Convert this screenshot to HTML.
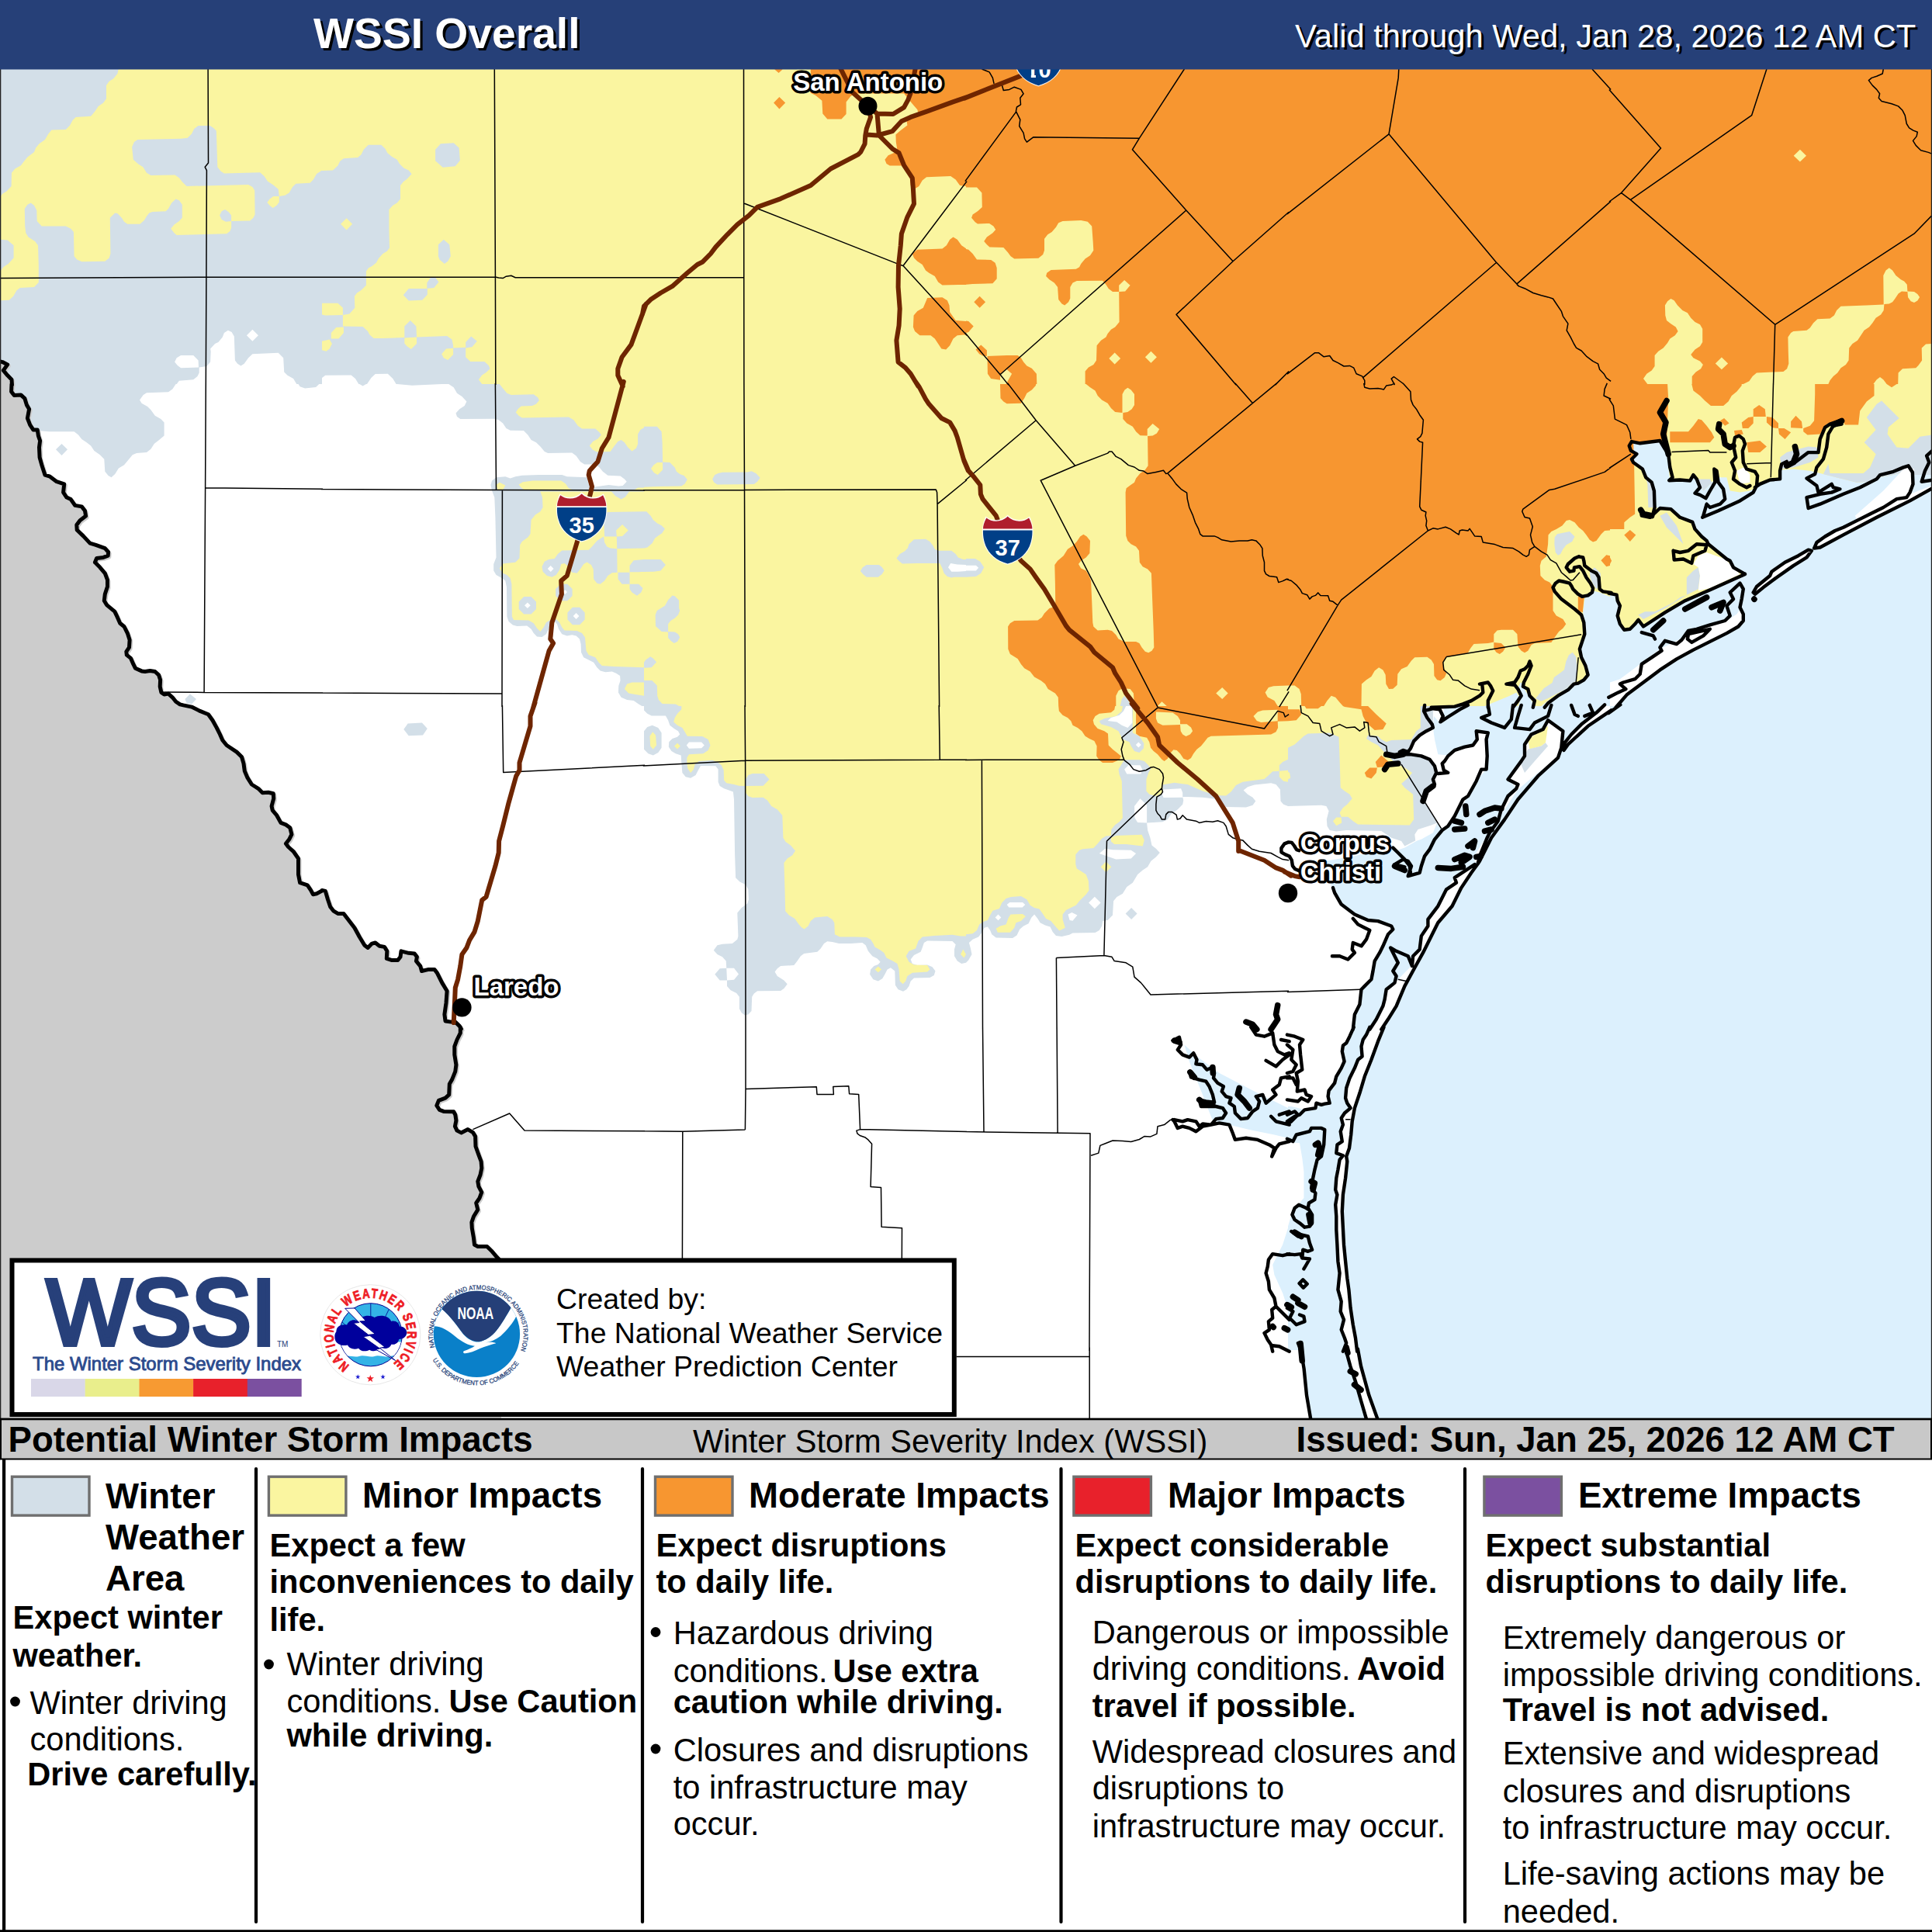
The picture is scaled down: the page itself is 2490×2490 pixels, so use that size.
<!DOCTYPE html>
<html lang="en"><head><meta charset="utf-8"><title>WSSI Overall</title>
<style>
html,body{margin:0;padding:0;background:#fff;}
body{width:2490px;height:2490px;overflow:hidden;font-family:"Liberation Sans",Arial,sans-serif;}
svg{display:block;position:absolute;left:0;top:0;}
text{font-family:"Liberation Sans",Arial,sans-serif;}
.b{font-weight:bold;}
</style></head><body>
<svg width="2490" height="2490" viewBox="0 0 2490 2490">
<rect x="0" y="88" width="2490" height="1742" fill="#fff"/>
<path d="M0,80 415,80 415,495 0,495Z M226.6,495 222.3,501.4 217,505.3 189,506.2 184.7,509 180,515.4 182.6,519.7 190.1,524 194.4,528.3 199.8,535.8 207.3,540.1 211.6,544.4 211.6,561.6 205.1,567 198.7,571.9 194.4,578.8 189,583.1 176.1,584.1 170.8,586.3 165.4,592.7 160,599.2 152.9,603.5 148.2,611 143.5,615.3 139.6,613.1 135.3,607.8 134.3,591.7 128.9,586.3 121.4,580.9 117.1,574.5 111.7,570.2 105.3,565.9 101,560.5 95.6,556.2 63.4,556.2 48.3,555.1 0,556.2 0,495Z M72,579.2 79.5,571.9 87,579.2 79.5,586.9Z M411.3,495 407.1,498.9 393.1,500.4 386.6,498.2 384.5,495Z M238.4,901 244.9,894.5 253,901 247,907.4 240.6,906.3Z M471.9,495 467.6,497.6 463.3,495Z M569.7,495 531,496.7 511.7,495Z M830,495 830,910 827.4,910 823.1,907.4 816.7,903.1 808.1,902.1 800.6,898.8 796.9,892.4 797.3,883.8 799.5,877.3 799.1,870.9 794.1,867.7 788.8,865.5 780.2,866.2 773.7,864.5 769.4,860.2 765.1,853.7 758.7,850.5 752.2,847.3 749,840.8 748.6,830.1 746.9,823.6 742.6,819.4 737.2,818.3 730.8,819.4 724.3,817.2 720,810.8 717.9,804.3 714.7,801.1 709.3,804.3 707.1,810.8 703.9,817.2 698.5,821.1 692.1,820.4 687.8,816.1 684.6,810.8 679.2,806.5 666.3,806.9 660.9,805.4 655.6,801.1 653.4,794.7 653,757.1 651.3,748.5 647,745.2 639.5,740.9 636.2,735.6 636.2,727 639.5,718.4 638.4,666.8 637.3,641.1 634.1,632.5 632.4,625 634.1,619.6 639.5,615.3 651.3,614.2 657.7,616.4 664.2,614.2 672.8,612.7 694.2,612.1 724.3,612.1 730.8,614.2 750.1,614.9 756.5,615.3 758.7,623.9 764.1,627.7 773.7,626.5 784.5,625 797.3,626.5 802.7,626 807.7,620.7 804.9,617.4 799.5,613.6 783.4,612.7 776.9,607.8 772.6,602.4 767.3,598.5 753.3,598.5 747.9,594.9 742.6,587.4 737.2,583.5 706.1,584.1 701.8,582 696.4,575.6 691,570.2 684.6,567 680.3,560.5 674.9,555.1 657.7,554.7 652.4,551.9 648.1,545.5 642.7,541.2 637.3,539.7 593.3,540.1 589,536.9 587.5,532.6 592.2,527.2 598.7,522.9 601.4,517.6 595.4,511.1 589,506.8 584.7,499.3 578.3,495Z M520.3,940.1 525.6,932.6 543.9,931.5 550.8,939 545,947.6 526.7,948.2Z M830,910 1245,910 1245,1240.8 1239.2,1241.9 1233.8,1238.6 1230,1232.2 1230,1223.6 1231.7,1217.2 1227.4,1212.9 1195.2,1212.4 1190.9,1215 1188.7,1221.5 1186.6,1226.8 1178,1231.1 1173.7,1236.5 1175.8,1241.9 1182.3,1244 1195.2,1243.4 1201.6,1246.2 1205.5,1251.5 1203.8,1256.9 1198.4,1260.1 1178,1260.6 1173.7,1264.4 1171.5,1270.9 1168.3,1275.2 1164,1277.7 1157.6,1275.2 1153.9,1269.8 1153.3,1251.5 1147.9,1247.2 1143.6,1249.4 1140.4,1255.8 1137.2,1261.2 1131.8,1264.4 1125.4,1262.3 1121.1,1255.8 1122.1,1249.4 1126.4,1245.1 1131.8,1242.9 1134.6,1239.7 1130.7,1235.4 1124.3,1232.2 1118.9,1225.8 1115.7,1218.2 1111.4,1215 1096.4,1216.1 1081.3,1216.1 1072.7,1213.9 1066.3,1213.3 1062,1216.1 1057.7,1222.5 1053.4,1226.8 1036.2,1229 1031.9,1232.2 1027.6,1238.6 1023.3,1244 1006.1,1245.1 1001.8,1248.3 998.6,1252.6 1001.8,1258 1010.4,1263.4 1014.7,1268.3 1010.4,1274.1 1006.1,1276.9 976.1,1277.3 971.8,1280.5 969.2,1284.8 968.5,1303.1 964.3,1307.4 960,1308.5 955.7,1305.2 952.9,1299.9 952.9,1284.8 949.2,1279.9 941.7,1276.2 937,1270.9 937,1263.4 927.7,1263.4 921.3,1255.8 927.7,1248.3 936.3,1247.7 935.7,1238.6 931,1233.3 924.5,1230.1 919.8,1224.7 924.5,1218.2 931,1216.7 943.8,1216.1 950.3,1210.7 951.4,1206.4 950.3,1176.4 955.7,1169.9 963.2,1164.5 964.9,1159.2 964.3,1146.3 961,1140.3 953.5,1136.6 948.1,1131.2 947.1,1101.2 946,1030.3 944.9,1020.6 939.5,1018.5 933.1,1016.3 927.7,1013.1 925.6,1007.7 925.6,991.6 922.4,987.3 903,986.9 899.8,992.7 896.6,999.1 890.1,1002.8 883.7,1001.3 879.4,995.9 878.3,983 877.7,973.4 870.8,971.2 865.4,968 861.8,962.6 862.2,956.2 866.5,951.9 873,949.7 876.2,946.5 874,942.2 868.7,939 863.3,934.7 861.1,928.3 857.9,922.5 839.7,922.5 834.3,919.7 830,915.4Z M830,942.2 834.3,936.9 840.7,934.7 848.3,937.9 852.6,944.4 852.6,963.7 848.3,970.1 841.8,973.4 835.4,971.2 830,965.8Z M1245,910 1660,910 1660,1038.9 1654.2,1036.7 1650.5,1032.4 1649.9,1017.4 1644.5,1011 1638.1,1009.2 1616.6,1011.4 1608,1014.2 1602.6,1018.5 1608,1023.8 1614.5,1027.7 1618.3,1032.4 1614.5,1037.8 1605.9,1040.6 1580.1,1040 1575.8,1035.7 1571.5,1030.3 1562.9,1029.2 1550,1027.7 1530.7,1027.1 1524.2,1027.1 1525.3,1031.4 1524.2,1036.7 1517.8,1043.2 1509.2,1049.6 1504.9,1056.1 1498.5,1059.3 1478.1,1060.4 1479.1,1070 1482.4,1079.7 1484.5,1089.4 1489.9,1093.7 1494.8,1099 1489.9,1104.4 1483.4,1109.8 1479.1,1117.3 1472.7,1121.6 1466.2,1127 1459.8,1137.7 1452.3,1143.1 1446.9,1151.7 1439.4,1155.9 1435.1,1161.3 1434,1179.6 1427.6,1186 1421.1,1187.1 1420.1,1193.5 1416.8,1198.9 1411.5,1202.1 1382.5,1202.6 1378.2,1204.7 1368.5,1206.9 1361,1206 1356.7,1201.1 1353.5,1194.6 1347,1192.5 1340.6,1189.2 1337.4,1183.9 1333.1,1178.5 1329.2,1182.8 1325.6,1190.3 1319.1,1193.5 1314.2,1197.8 1310.5,1205.4 1305.1,1209 1283.7,1208.6 1278.3,1204.3 1276.1,1198.9 1272.9,1194.6 1268.6,1195.7 1265.4,1202.1 1261.1,1207.5 1253.6,1210.7 1248.9,1215 1251,1222.5 1252.5,1230.1 1248.2,1237.6 1245,1240.8Z M1450.6,1177.4 1458.1,1169.9 1465.6,1177.4 1458.1,1184.9Z" fill="#d3dfe8" fill-rule="nonzero"/>
<path d="M415,80 415,219.6 408.1,223.9 403.8,231.4 399.5,235.7 381.3,236.8 377,241.1 372.7,248.6 367.3,251.8 359.8,252.9 358.7,243.7 352.3,238.5 344.8,233.6 340.5,227.1 335.1,222.2 288.9,223.5 284.6,220.7 280.3,215.3 278.8,168.5 274.9,164.8 270.7,162.1 255.6,162.1 250.2,165.9 247,172.4 241.7,177.7 233.1,178.8 177.2,179.9 172.9,183.1 170.1,189.5 171.8,205.7 178.3,211.5 184.3,215.3 189,222.8 194.4,226.1 225.5,225.6 230.9,229.3 235.2,234.7 240.6,240 320.1,237.9 325.4,241.1 328.2,245.4 328.6,276.5 326.5,280.8 322.2,284.5 298.1,285.1 298.1,293.7 296.4,298 292.1,301.2 227.7,303 224.5,300.2 220.2,294.8 224.5,289.4 230.9,285.1 234.8,280.8 234.8,263.7 230.9,258.3 226.6,256.6 221.2,261.5 217,269 213.7,272.2 196.5,272.9 192.2,274.4 189,278.7 185.8,284.1 180.4,288.8 164.3,288.8 160,285.8 156.8,280.8 151.4,275 148.2,274.4 141.8,280.8 142.4,327 140.7,332.4 135.3,336.7 105.3,337.3 99.2,334.5 95.6,330.2 94.9,299.1 91.3,294.8 84.8,291.6 53.7,291.6 47.7,285.1 47.3,271.2 44,264.7 39.7,261.5 35.4,263.7 31.8,269 32.2,291.6 33.3,300.2 36.5,305.5 45.1,310.9 49,316.3 49.8,342.1 49.8,364 44,370 25.8,371.1 21.5,374.3 17.2,381.8 11.8,386.7 0,387.2 0,254 3.2,249.7 8.6,246.5 14.6,240 15,222.8 19.3,217.5 26.9,213.2 30.1,208.9 35.4,202.4 44,196 46.2,190.6 50.5,185.3 58,179.9 62.3,172.4 66.6,167.6 84.8,167 90.2,161.6 93.4,155.2 97.7,150.9 117.1,149.8 122.4,143.4 126.7,136.9 133.2,132.6 137,127.3 137,110.1 140.7,104.7 146.1,101.5 151.4,95 154.7,80Z M359.8,260.4 356.6,264.7 351.8,268 348,265.2 344.3,260.9 347.6,256.6 352.3,253.1 359.8,252.9Z M415,80 830,80 830,495 415,495Z M830,495 830,551.3 825.3,554.1 822.1,559.4 822.1,572.3 819.9,577.7 814.5,581.4 809.2,576.6 804.9,570.2 800.6,567 796.3,569.1 792,574.5 786.6,582 769.4,582.6 764.1,579.8 759.8,574.5 764.1,569.1 770.5,565.5 774.8,560.5 772.6,557.3 767.3,552.6 750.1,552.6 744.7,548.7 739.4,541.2 732.9,537.5 672.8,538.4 668.5,535.8 664.8,531.5 667.4,527.2 671.7,523.6 685.7,522.9 691,520.8 694.9,516.1 693.2,512.2 687.8,508.3 658.8,509 653.4,506.8 648.1,500.4 643.8,495Z M668.5,624.5 673.8,621.3 686.7,619.6 723.2,619.6 729,623.5 732.9,629.3 738.3,631.4 676,631.6 671.7,628.6Z M639.5,625 643.8,621.7 651.3,625.6 648.1,631.4 641.6,631.4Z M816.7,632 822.1,628.6 830,628.2 830,632.5Z M830,633.5 830,860.2 790.9,859.1 775.9,858 771.6,853.7 767.3,847.3 758.7,844.1 755.5,838.7 754,821.5 750.1,816.1 743.6,812.9 727.5,812.5 724.3,808.6 721.1,802.2 716.8,797.9 709.3,798.9 703.9,802.2 700.7,808.6 696.4,814 692.1,809.7 687.8,803.2 681.4,799.6 662,798.9 659.9,794.7 659.4,752.8 657.7,745.2 653.4,740.9 648.1,738.8 643.8,732.4 648.1,726.6 664.2,724.8 669.5,719.5 670.2,702.3 672.8,698 680.3,692.6 683.5,688.3 684.6,670.1 689.9,663.6 696.4,659.3 699.6,654 699,641.1 696.4,633.5Z M804.9,888.1 808.1,881.6 814.5,879.5 830,879.5 830,896.7 818.8,895 810.2,893.5Z M830,80 1245,80 1245,495 830,495Z M830,495 1245,495 1245,910 830,910Z M837.5,948.7 841.2,943.3 845,947.6 846.1,960.5 841.8,965.8 838.2,961.6Z M1245,910 1245,1206.4 1238.1,1206.4 1227.4,1204.7 1203.8,1206 1188.7,1207.5 1183.4,1212.9 1180.1,1222.5 1171.5,1225.8 1167.7,1232.2 1171.5,1239.7 1178,1243.4 1195.2,1244 1198.4,1249.4 1195.2,1252.6 1175.8,1253.7 1169.4,1258 1167.2,1264.4 1163.6,1268.3 1159.7,1264.4 1158.6,1249.4 1156.5,1241.9 1150.1,1238.2 1142.5,1234.4 1139.3,1227.9 1135,1224.7 1127.5,1220.4 1125.4,1216.1 1122.1,1210.7 1116.8,1208.1 1102.8,1207.5 1082.4,1207.5 1075.9,1204.3 1075.3,1189.2 1072.7,1184.9 1066.3,1181.1 1050.2,1182.4 1044.8,1187.1 1041.6,1193.5 1036.6,1197.4 1033,1195.3 1028.7,1190.3 1024.4,1183.9 1016.9,1179.6 1012.2,1174.2 1011.5,1146.3 1010.4,1111.9 1014.7,1106.5 1021.2,1102.2 1025,1096.4 1019,1089.4 1012.6,1085.1 1009.4,1079.7 1008.3,1050.7 1001.8,1043.2 994.3,1038.9 989,1031.4 983.6,1027.7 969.6,1028.1 964.3,1026 961,1021.7 961,1013.1 952.4,1012.7 946,1011 936.3,1009.2 933.1,1005.6 932.7,992.7 929.9,986.3 924.5,982 918.1,979.8 900.9,980.9 895.5,985.2 894,991.6 890.1,995.9 886.3,990.6 885.4,984.1 885.4,976.6 888,972.3 906.3,971.2 912.7,966.9 915.5,960.5 912.7,953 905.2,949.1 885.8,948.7 882.6,943.3 879.4,937.9 873,934.7 868.2,930.4 869.7,925 873,919.7 878.3,914.3 878.3,910Z M869.1,961.6 873,957.7 876.8,961.6 873,965.4Z M1127.5,1249.4 1131.8,1245.5 1136.1,1249.4 1131.8,1253.3Z M1238.1,1230.1 1241.3,1223.6 1245,1230.1 1242.4,1234.4Z M1245,495 1660,495 1660,910 1245,910Z M1245,910 1660,910 1660,978.7 1653.1,982 1648.8,986.3 1648.8,993.8 1640.2,994.2 1633.8,1000.2 1629.5,1004.1 1601.6,1007.7 1593,1012 1586.5,1020.6 1580.1,1025.6 1567.2,1024.9 1550,1019.5 1530.7,1011 1513.5,1008.8 1498.5,1011.4 1498.5,1017.4 1497.4,1022.8 1489.9,1026 1481.3,1023.8 1477.4,1019.5 1477.4,1004.5 1480.2,995.9 1483.4,990.6 1479.1,985.2 1474.8,980.9 1468.4,979.2 1449.1,979.2 1441.5,991.6 1442.6,998.1 1445.8,1006.7 1446.5,1038.9 1446.9,1054.3 1442.6,1059.3 1437.2,1062.9 1432.3,1069 1431.9,1077.1 1425.4,1077.5 1420.1,1080.8 1414.7,1087.2 1409.3,1093 1395.4,1094.3 1391.1,1095.8 1386.3,1101.2 1386.3,1114.1 1387.8,1119.4 1393.2,1122.7 1399.7,1127 1402.9,1135.5 1403.5,1147.4 1399.7,1152.7 1391.1,1161.3 1386.8,1166.7 1382.5,1168.8 1373.9,1173.1 1369.6,1178.5 1369.6,1184.9 1372.8,1195.7 1365.3,1199.6 1359.9,1193.5 1354.5,1187.1 1348.1,1183.9 1343.8,1177.4 1339.5,1171.6 1333.1,1169.9 1327.7,1166.7 1323.4,1159.2 1315.9,1154.9 1303,1155.9 1296.6,1158.1 1291.2,1163.5 1288,1171 1279.4,1173.8 1276.1,1179.6 1272.9,1186 1266.5,1188.2 1262.2,1191.4 1259,1198.9 1253.6,1203.2 1245,1204.3Z M1431.9,1079.7 1438.3,1077.1 1471.6,1075.8 1474.8,1082.9 1472.7,1090.4 1464.1,1089.4 1451.2,1087.9 1436.2,1087.9 1431.9,1084.4Z M1418.6,1117.3 1425.4,1110.4 1432.3,1117.3 1425.4,1124.2Z M1283.7,1196.8 1289,1193.5 1296.6,1191.4 1299.8,1182.8 1302.6,1178.5 1318,1178.1 1321.9,1181.1 1315.9,1187.1 1309.4,1189.2 1307.3,1195.7 1301.9,1201.7 1285.8,1201.7Z M1648.8,993.8 1660,992.7 1660,1007.7 1654.2,1006.7 1648.8,1001.3Z" fill="#faf5a0" fill-rule="nonzero"/>
<path d="M0,308.8 9.7,309.4 17.6,316.3 17.6,332.4 10.7,339.9 4.3,344.2 0,350.2Z M283.1,277.6 285.7,272.2 290,270.1 294.7,273.3 298.1,277.6 298.1,285.1 291.1,285.8 285.7,283Z M415,220.1 429,219.6 435.4,213.6 438.2,207.8 442.9,204.2 461.2,202.9 465.5,199.2 468.7,192.8 474.7,186.8 491.3,186.8 496.6,191.7 499.2,197.1 505.2,202 511.7,205.7 514.9,211 520.3,216.4 526.7,219.6 530.6,224.3 524.5,230.8 519.8,234.2 516,239 516,256.6 511.7,261.5 506.3,264.7 501.4,270.1 501.4,294.8 502,319.5 498.8,323.8 493.4,327 488,333 484.8,338.8 479.4,343.1 475.1,345.3 471.9,349.6 471.9,367.8 465.5,373.9 460.1,377.5 456.9,381.8 457.3,396.8 450.4,404.4 441.9,406.1 441.9,420.5 467.6,420.9 474.1,426.9 476.2,431.2 481.6,436.1 493.4,435.9 521.3,435.1 521.3,420.5 528.8,412.9 536.4,420.5 537,434.4 563.2,433.4 576.1,432.9 582.5,437.6 584.1,445.2 584.1,448.4 600.2,447.7 600.2,440.9 607.2,433.4 614.8,439.8 608.3,447.3 600.2,448.4 600.2,460.2 606.2,466 624.4,466 629.8,470.9 631.5,475.2 626.6,480 621.2,483.4 616.9,489.2 621.2,495 626.6,495 415,495Z M561.1,192.8 567.9,185.3 584.7,184.2 591.6,190.6 592.9,206.7 586.8,214.3 570.7,215.8 561.1,207.2Z M564.9,315.2 571.8,308.8 579.3,315.2 580.8,330.2 577.2,336.7 572.9,339.9 566.4,334.5 564.9,330.2Z M550.3,364.6 554.6,358.2 561.1,357.5 565.4,363.5 559.3,371.1 550.8,371.7 550.8,379.7 544.3,386.7 526.7,387.6 519.8,380.3 526.7,372.1 550.3,372.1Z M811.3,632.9 805.9,640.6 800.6,643.6 793.1,639.3 787.7,632.9Z M778,661.5 784.5,660 830,659.3 830,706.6 795.2,707.2 794.8,691.5 779.1,691.5Z M724.3,709.4 758.7,708.7 763,704.4 769.4,696.9 778,691.5 779.1,699.1 782.3,704.4 786.6,706.6 795.2,707.2 795.6,737.7 788.8,738.2 783.4,742 779.1,748.5 773.7,752.8 769.4,751.7 765.1,746.3 764.7,733.4 761.9,728.1 756.5,724.4 752.2,727 747.9,733.4 743.6,738.8 737.2,737.7 732.9,730.2 727.5,725.9 723.2,727 721.1,734.5 716.8,740.9 711.4,743.7 705,742 699.6,736.7 698.5,730.2 701.8,723.8 707.1,721 714.7,720.1 718.9,714.1Z M675.2,769.1 684.5,769.1 691,775.6 691,784.9 684.5,791.4 675.2,791.4 668.7,784.9 668.7,775.6Z M737.9,782.8 747.2,782.8 753.7,789.4 753.7,798.6 747.2,805.2 737.9,805.2 731.4,798.6 731.4,789.4Z M722.4,752.8 731.3,752.8 737.6,759.1 737.6,768 731.3,774.2 722.4,774.2 716.2,768 716.2,759.1Z M811.5,737.3 811.5,729.1 816.7,722.3 830,721 830,736.7 823.1,737.3Z M796.5,737.7 811.5,737.7 811.5,752.8 801.6,752.8 796.5,746.3Z M811.5,752.8 823.1,752.8 828.5,758.1 826.3,763.5 821,767.8 814.5,763.5 811.5,759.2Z M830,549.8 846.8,549.8 852.6,556.2 853.6,570.2 854.1,595.5 863.3,596 869.7,602.4 871.9,607.8 876.2,611 881.6,613.1 885.8,617.9 882.6,623.5 878.3,626.5 848.3,627.1 830,627.7Z M918.1,617.4 921.3,612.1 925.6,609.9 931,608.8 963.2,608.4 968.5,607.3 974.3,609.9 979.7,615.7 976.1,620.7 971.8,623.9 950.3,624.3 924.5,624.5 920.2,621.7Z M830,659.3 833.2,659.3 838.6,664.7 841.8,670.1 847.2,674.4 852.6,677.2 856.9,681.4 853.2,687.2 848.3,690.5 844,693.7 840.7,700.1 834.3,705.5 830,706.6Z M830,721 851.5,721 857.9,728.1 851.5,735.6 842.9,736.7 830,737.1Z M844.6,792.5 846.8,787.1 851.5,783.9 856.9,780.7 861.1,773.2 866.5,767.4 869.7,768.2 875.1,773.8 875.1,783.9 876.2,787.1 874,792.5 869.7,796.8 864.4,800 861.1,804.3 861.1,814 869.7,814.4 874,817.2 876.2,821.5 873,826.9 868.7,829 864.4,825.8 861.1,821.9 861.1,814.4 852.6,814 845,806.9Z M830,853.7 832.1,850.5 838.2,846.2 841.8,848.4 846.1,853.3 839.7,860.2 831.1,860.8 830,860.2Z M830,876.9 840.3,876.9 846.8,883.4 847.2,896.7 848.9,902.1 853.6,907 870.8,907.4 875.1,910 830,910Z M1155.4,719.5 1159.7,714.1 1166.2,710.2 1169.8,706.6 1171.5,701.2 1178,695.2 1193,694.8 1198.4,698 1202.7,703.4 1204.8,707.7 1209.1,709.8 1226.3,709.8 1231.7,714.1 1234.9,718.4 1241.3,721 1245,721 1245,743.7 1229.5,743.7 1226.3,744.6 1220.9,743.1 1216.6,738.8 1214.5,732.4 1211.3,725.9 1181.2,725.9 1162.9,726.6 1158.6,723.1Z M1108.8,736 1111.8,731.3 1116.8,728.1 1132.9,728.1 1136.7,730.9 1139.7,735.2 1136.7,739.9 1131.8,743.7 1116.8,743.7 1112.5,740.3Z M961,1004.5 964.3,999.1 969.6,997 984.7,997 991.5,1004.5 983.6,1012.7 961,1013.1Z M1245,720.1 1256.8,720.1 1263.3,723.8 1268.2,731.3 1264.3,738.8 1257.9,743.1 1245,743.7Z" fill="#d3dfe8" fill-rule="nonzero"/>
<path d="M225.1,466.6 227.7,461.3 233.1,458.1 249.2,458.1 255.6,464.5 256,473.5 233.1,474.2 228.8,470.9Z M227.7,495 230.9,490.7 249.2,489.2 254.5,484.9 256.7,480.6 256.7,473.5 266.4,472 271.1,466.6 271.7,452.7 271.1,449.5 277.1,443 281.4,440.9 286.8,434.4 288.9,429.1 293.9,425.8 298.6,428 301.8,433.4 302.9,464.5 306.1,468.8 310.4,471.4 314.7,468.8 320.1,461.3 325.4,456.3 358.7,454.8 365.2,461.3 366.2,479.5 370.5,483.8 378.1,488.1 382.3,495Z M317.9,432.3 325.4,424.8 332.9,432.3 325.4,439.8Z M415,487.1 419.3,483.8 452.6,483.4 458,488.1 462.3,495 415,495Z M473,495 478.4,487.1 483.7,482.1 499.8,481.7 506.3,488.1 510.6,495Z M705.8,733 709.7,729.1 713.6,733 709.7,736.9Z M676,780.3 679.9,776.4 683.7,780.3 679.9,784.1Z M738.7,794 742.6,790.1 746.4,794 742.6,797.9Z M725.4,763.1 728.2,760.3 731,763.1 728.2,765.9Z M1222,731.3 1225.2,725.9 1233.8,727.4 1245,728.1 1245,736 1234.9,736.7 1226.3,736.7Z M884.8,960.5 888,956.6 904.1,956.6 907.8,960.5 904.1,964.3 888,964.8Z M936.3,1247.7 946,1247.7 952,1255.4 946,1262.7 937,1263.4Z M1245,728.7 1257.9,728.7 1261.1,731.7 1257.9,735.6 1245,735.6Z M1498.5,1017.4 1522.1,1016.3 1524.2,1021.7 1524.2,1027.7 1499.5,1028.1 1497.4,1022.8Z M1462,1038.9 1469.5,1029.2 1478.1,1037.8 1478.1,1060.4 1466.2,1059.9 1462.4,1053.9Z M1449.1,991.6 1454.4,986.3 1469.5,986.3 1472.3,991.6 1470.5,997.6 1452.3,997.6Z M1416.8,1100.1 1424.4,1093.7 1434,1095.2 1457.7,1095.8 1464.1,1100.1 1457.7,1106.5 1438.3,1107.6 1429.7,1104.4Z M1403.1,1163.5 1410.8,1155.7 1418.6,1163.5 1410.8,1171.2Z M1376.5,1178.5 1381.4,1175.9 1388.5,1179.6 1382.5,1186.7 1378.6,1186Z M1282.6,1182.4 1286.5,1178.5 1290.3,1182.4 1286.5,1186.2Z M1297.6,1166 1301.3,1163 1318,1163 1321.3,1166 1317.6,1169.5 1300.4,1169.5Z" fill="#ffffff" fill-rule="nonzero"/>
<path d="M997.1,132.6 1004.4,125.1 1012.2,132.6 1004.4,140.6Z M997.5,80 1008.3,80 1008.3,89.7 1003.6,94 998.6,89.7Z M1245,80 1245,240 1237.1,239 1231.7,231.4 1225.2,227.1 1194.1,228.2 1188.7,232.5 1184.4,240 1179.1,243.3 1173.7,239 1172.6,228.2 1168.3,219.6 1164,213.6 1146.8,213.6 1142.5,211 1140.4,205.7 1144.7,200.3 1152.2,197.1 1156.5,193.8 1154.8,183.1 1154.4,173.4 1160.8,168.1 1169.4,161.6 1168.3,154.1 1184,147.7 1182.3,141.2 1175.8,133.7 1165.1,120.4 1102.8,120.4 1096.4,124 1090.6,131.6 1090.6,147 1084.5,153.5 1066.3,153.5 1060.3,146.6 1059.4,129.8 1051.2,123 1044.8,119.7 1044.8,80Z M1175.8,327 1182.3,321.7 1214.5,320.6 1219.9,316.3 1224.2,308.8 1228.5,305.5 1233.8,308.8 1239.2,316.3 1245,320.2 1245,366.8 1214.5,367.4 1209.1,363.5 1204.8,356 1197.3,351.7 1193,348.5 1188.7,341 1182.3,336.7 1178,332.4Z M1195.2,383.9 1214.5,383.3 1220.9,387.2 1223.5,393.6 1224.2,402.2 1231.7,412.9 1245,414 1245,431.2 1233.8,432.3 1228.5,436.6 1224.2,445.2 1219.2,450.5 1213.4,449.5 1209.1,443 1204.8,436.6 1199.5,432.3 1185.5,432.3 1179.1,426.9 1176.9,421.5 1177.6,406.5 1182.3,401.1 1189.8,396.8 1193,389.3Z M1245,80 1660,80 1660,495 1245,495Z M1335.2,495 1334.8,497.1 1329.8,502.5 1323.4,506.8 1320.2,513.3 1315.9,519.7 1297.6,520.3 1293.3,517.6 1289.5,513.3 1289,495Z M1660,495 1660,910 1364.2,910 1363.8,898.8 1359.9,893.5 1350.7,888.1 1347,881.6 1341.7,877.3 1333.1,872.6 1327.7,865.5 1320.2,861.2 1315.9,855.9 1311.6,849 1301.9,843 1299.3,836.5 1299.1,807.5 1301.9,803.2 1307.3,800 1337.4,799.6 1342.7,795.7 1346,790.4 1352.4,783.9 1360.3,781.8 1359.9,752.8 1359.3,728.1 1363.1,722.7 1370.7,716.2 1376,707.7 1382.5,703.4 1387.8,698 1392.1,691.5 1396.4,688.8 1400.7,691.5 1405,696.9 1404.4,713 1399.7,718.4 1393.2,722.7 1390,727 1393.2,732.4 1399.7,735.6 1403.5,742 1406.1,748.5 1407.2,774.2 1408.3,802.2 1409.3,807.5 1414.7,812.5 1427.6,811.8 1433,812.9 1438.3,818.3 1441.5,823.6 1449.1,826.9 1464.1,826.9 1468.4,829 1471.6,834.4 1475.9,839.8 1480.2,841.3 1484.5,838.7 1487.3,834.4 1486.7,812.9 1485.2,774.2 1483.9,738.8 1479.1,733.4 1472.7,730.2 1468.8,724.8 1468,709.8 1464.1,704.4 1457.7,701.2 1453.4,696.9 1451.2,690.5 1450.6,634.6 1451.6,629.3 1456.6,625.6 1462,621.7 1464.1,616.4 1469.5,609.9 1475.9,605.6 1479.6,600.3 1479.1,562 1485.6,561.6 1490.9,558.4 1494.2,553 1485.6,546.1 1478.7,553 1478.7,561.6 1469.5,561.2 1464.1,556.2 1459.8,549.8 1452.3,545.5 1447.3,540.1 1447.3,531.9 1453.4,531.1 1458.7,527.2 1462,521.9 1462,507.9 1457.7,502.5 1453.4,499.7 1449.5,502.5 1446.5,507.9 1446.5,531.9 1437.2,531.1 1431.9,526.1 1427.6,519.7 1420.1,515.4 1414.7,510 1411.5,503.6 1405,499.3 1399.7,495Z M1437.2,910 1436.2,914.7 1431.9,918.2 1416.8,919.7 1411.5,922.9 1408.7,928.3 1410,933.6 1414.7,939 1423.3,942.2 1428,945.4 1428.7,960.5 1434,965.8 1439.4,970.1 1444.8,974.4 1442.6,979.2 1434,983 1421.1,983 1416.8,979.8 1413.2,974.4 1413.6,961.6 1410.4,955.1 1404,951.9 1398.6,948.7 1394.3,942.2 1388.9,937.9 1382.5,934.7 1380.3,929.3 1376,925 1369.6,921.8 1364.9,916.4 1364.2,910Z M1660,910 1660,929.3 1646.7,929.8 1647.1,937.9 1644.5,943.3 1638.1,946.5 1560.8,948.7 1556.5,950.8 1552.2,956.2 1547.9,961.6 1542.5,965.8 1538.2,971.2 1535,977 1530.7,979.8 1525.3,977.7 1521,971.2 1516.7,966.9 1512.4,966.3 1507.1,972.3 1504.9,977.7 1500.6,980.9 1497.4,978.7 1492,972.3 1486.7,968 1483,963.7 1481.3,956.2 1478.1,950.8 1468.4,948.7 1464.1,945.4 1464.1,910Z M1660,80 2075,80 2075,495 1660,495Z M1660,495 2075,495 2075,910 1660,910Z M2075,80 2490,80 2490,495 2075,495Z" fill="#f79630" fill-rule="nonzero"/>
<path d="M415,390.8 435.4,390.8 441.9,396.8 441.9,406.1 419.3,406.5 415,405.4Z M426.8,429.1 433.3,422 442.9,421.5 442.9,429.1 436.5,436.6 426.8,436.6Z M415,439.8 424.7,437.6 427.9,443 424.7,449.5 420.4,452.7 415,451.2Z M439.1,288.8 446.6,281.3 454.1,288.8 446.6,296.5Z M521.3,435.5 537,434.4 537,443 529.9,449.9 524.5,446.2 521.3,442.6Z M569.2,456.3 575,449.5 584.1,448.8 584.1,457 577.2,464.1 571.8,461.3Z M794.1,683.6 802.1,675.9 809.8,683.6 802.1,690.9 794.8,691.5Z M839,604.1 842.5,599.2 847.2,596 854.1,596 854.1,605.6 847.6,612.1 842.9,609.3Z M1245,241.5 1259,241.5 1265.4,248.6 1265.8,266.9 1260,272.2 1253.6,276.5 1252.1,280.8 1256.8,286.2 1260,288.4 1275.1,287.9 1280.4,291.6 1283.2,295.9 1279.4,300.2 1271.9,305.5 1268.2,310.9 1271.9,315.2 1275.5,318.4 1293.3,318.9 1298.7,324.9 1302.6,330.2 1307.3,333.5 1338.4,332.8 1344.2,328.1 1346,322.7 1346,307.7 1350.3,302.3 1355.6,299.1 1361,292.7 1364.2,287.3 1369.6,285.1 1393.2,284.1 1401.8,285.8 1407.2,291.6 1408.7,312 1409.3,322.7 1405,329.2 1398.6,333.5 1393.2,339.9 1391.1,344.2 1386.8,346.8 1354.5,348.1 1349.2,351.7 1348.1,356 1352.4,360.3 1358.8,364.6 1363.1,370 1364.2,386.1 1368.5,391.5 1372.2,393.6 1377.1,389.3 1379.3,384.6 1379.3,370 1382.5,364.6 1387.8,362 1421.1,361.8 1425.4,366.8 1428.7,372.1 1434,376 1442.2,376 1442.2,367.8 1449.1,361 1456.6,367.8 1450.1,375.4 1442.2,376 1442.6,415.1 1437.2,421.5 1431.9,424.8 1427.6,430.1 1425.4,434.4 1419,438.7 1413.6,445.2 1413,464.5 1409.3,469.9 1402.9,473.5 1398.6,478.5 1398.6,495 1245,495Z M1429.3,461.9 1436.6,454.4 1444.1,461.9 1436.6,469.4Z M1475.9,460.2 1483.4,452.7 1490.9,460.2 1483.4,467.7Z M1438.3,910 1438.3,896.7 1441.5,890.2 1446.9,887 1456.6,888.1 1460.9,893.5 1462,910Z M1567.2,893.5 1575.2,885.9 1582.7,893.5 1575.2,901Z M1630.6,892.4 1634.9,885.9 1641.3,884.2 1660,883.4 1660,910 1646.7,910 1642.4,903.1 1633.8,898.4Z M1492,910 1497.4,904.2 1503.8,910Z M1489.9,917.5 1511.4,918.6 1517.8,922.9 1521,928.3 1521,933.2 1529.6,933.2 1535,937.5 1537.1,942.2 1533.9,946.5 1528.5,949.1 1524.2,946.5 1521.7,942.2 1521,934.1 1498.5,934.7 1492,931.5 1489.9,926.1Z M1615.5,922.9 1620.9,917.5 1627.3,915.4 1646.7,914.7 1646.7,929.3 1625.2,931.1 1619.8,928.9Z M1660,883.4 1668.6,883.4 1674.6,888.1 1676.8,894.5 1677.2,910 1660,910Z M1706.2,910 1710.5,903.1 1715.8,896.7 1721.2,898.8 1726.6,905.3 1730.9,910Z M1754.5,910 1754.9,881.6 1761,876.3 1767.4,872 1771.7,864.5 1777.1,860.2 1782.4,863.4 1785.7,869.8 1786.3,881.6 1790,888.1 1795.3,887.7 1800.7,882.7 1801.3,868.8 1806.1,862.3 1813.6,859.1 1819,851.6 1823.3,847.3 1839.4,846.8 1844.7,850.5 1848,855.9 1848.4,870.9 1852.2,876.3 1856.5,877.3 1861.9,873.1 1864.1,867.7 1860.8,860.2 1859.8,853.7 1864.1,847.3 1892,841.3 1895.2,835.5 1899.5,830.1 1917.8,829 1925.3,827.5 1925.3,817.2 1929.6,812.5 1934.9,811.8 1950,811.8 1955.4,817.2 1956.4,833.3 1960.7,838.7 1965,841.3 1969.3,838.7 1973.6,831.2 1977.9,829 1999.4,827.9 2003.7,821.5 2009.1,814 2014.4,809.7 2018.3,804.3 2014.4,797.9 2005.8,793.6 2001.5,787.1 2001.5,756 1997.2,750.6 1990.8,747.4 1985.4,742 1984.8,729.1 1986.5,722.7 1992.9,717.3 1995.1,701.2 1995.5,689.4 1999.4,685.1 2005.8,681.9 2013.4,677.6 2018.7,671.1 2023,670.1 2029.5,673.3 2034.8,679.7 2040.2,684 2044.5,689.4 2048.8,695.8 2053.1,698.6 2057.4,696.9 2063.8,688.3 2068.1,684 2075,683.6 2075,910Z M2311.7,200.7 2319.9,192.8 2328,200.7 2319.9,208.5Z M2210.8,468.4 2218.9,460.6 2227.1,468.4 2218.9,476.3Z M2145.9,393.6 2149.1,388.2 2153.4,385 2157.7,387.2 2162,393.6 2168.4,400.1 2174.9,403.3 2179.2,409.7 2184.5,415.1 2191,418.3 2194.2,423.7 2194.2,440.9 2191,446.2 2184.5,450.5 2179.2,457 2182.4,461.3 2191,465.6 2194.9,469.9 2192.1,475.2 2185.6,479.5 2180.7,484.9 2180.7,495 2123.3,495 2118,488.1 2122.3,481.7 2128.7,477.4 2132.6,472 2132.6,458.1 2137.3,452.7 2143.7,448.4 2149.1,441.9 2152.3,436.6 2158.8,432.3 2162.6,426.9 2159.8,421.5 2153.4,417.2 2148,412.9 2146.3,406.5Z M2246.8,495 2254.4,491.3 2258.7,484.9 2264,480.6 2284.4,479.5 2298.4,479.1 2303.1,475.2 2305.3,468.8 2304.8,453.8 2304.4,434.4 2308.1,429.1 2311.3,426.9 2328.5,425.8 2332.8,422.6 2337.1,416.2 2342.4,411.2 2358.5,410.4 2363.9,406.5 2367.1,400.1 2372.5,394.7 2405.8,393.6 2427.7,392.5 2427.3,354.9 2430.5,348.5 2434.8,345.3 2439.1,348.5 2443.4,354.9 2449.8,360.3 2454.1,362.5 2457.8,366.8 2458.4,375.4 2467,376 2471.3,379 2474.1,382.9 2471.3,387.6 2467,390 2462.7,388.2 2459.1,383.3 2458.4,376 2450.9,375.4 2446.6,378.6 2442.3,385 2439.1,389.3 2434.8,391.5 2428.4,391.9 2427.7,400.1 2424.1,405.4 2417.6,409.7 2413.3,416.2 2409,421.5 2402.6,425.8 2398.3,432.3 2394,438.7 2387.5,443 2383.2,448.4 2382.6,464.5 2378.9,469.9 2372.5,474.2 2368.2,480.6 2362.8,484.9 2358.5,490.3 2356.4,495Z M2490,495 2446.2,495 2446.6,480.6 2452,475.2 2469.2,474.2 2472.4,470.9 2477.1,464.5 2476.7,448.4 2482.1,443.4 2490,443Z M2414.4,495 2418.7,489.2 2423,486 2427.3,489.2 2431.6,495Z" fill="#faf5a0" fill-rule="nonzero"/>
<path d="M1245,321 1248.2,321.7 1253.6,327 1259,334.5 1277.2,335 1282.6,338.8 1284.7,345.3 1284.7,359.2 1279.4,365.3 1253.6,366.1 1245,366.8Z M1255.3,389.3 1262.6,381.8 1270.1,389.3 1262.6,396.8Z M1245,413.4 1248.2,414 1254.7,420.5 1248.2,428 1245,429.1Z M1257.5,450.5 1264.3,444.5 1271.9,451.6 1271.9,459.1 1297.6,458.1 1311.6,458.1 1315.9,461.3 1319.1,466.6 1323.4,471.4 1329.8,474.8 1335.9,481.7 1336.3,495 1296.6,495 1304.1,481.7 1296.6,475.2 1289,482.8 1289,489.8 1277.2,488.1 1272.9,481.7 1272.5,459.1 1266.5,458.5 1262.2,456.3Z M1925.3,827.9 1934.9,829 1940.3,834.4 1937.1,839.8 1932.8,843 1928.5,840.8 1925.3,836.5Z M2063.4,722.3 2070.3,715.2 2075,716.2 2075,729.1 2070.3,730.2Z M2033.8,768.9 2041.9,767.8 2039.8,789.3 2033.8,787.1Z" fill="#f79630" fill-rule="nonzero"/>
<path d="M1443.7,910 1445.8,901 1449.1,896.7 1454.4,903.1 1457.7,910Z M1446.9,910 1459.8,910 1459.8,944.4 1468.4,948.7 1474.4,958.3 1473.8,964.8 1468.4,970.1 1462,968 1457.7,961.6 1455.5,956.2 1446.9,953 1441.5,942.2 1431.9,936.9 1419,933.2 1416.8,929.3 1423.3,926.1 1438.3,922.9 1445.8,916.4Z M2003.7,692.6 2006.9,688.3 2023,685.1 2029.5,691.5 2026.2,698 2018.7,702.3 2014.4,707.7 2011.2,714.1 2008,715.8 2004.8,712 2003.3,701.2Z M2048.8,736.7 2055.2,731.3 2062.8,738.8 2062.8,752.8 2057.4,759.2 2053.1,752.8 2049.9,746.3Z M2018.3,852.6 2021.9,844.3 2026.7,840.7 2031.4,846.7 2032.6,858.6 2031.4,877.6 2024.3,882.4 2014.8,889.5 2006.4,894.3 1994.5,900.2 1986.2,903.8 1979,900.2 1985,893.1 1989.8,887.1 2000.5,880 2002.9,872.9 2011.2,866.9 2016,863.3Z" fill="#d3dfe8" fill-rule="nonzero"/>
<path d="M-1.1,465.6 3.2,466.6 9.7,469.9 4.3,477.4 9.7,483.8 15,489.2 15.5,496.1 15,495 14.6,504.7 18.3,509.6 26.9,509 31.8,513.3 34.4,521.9 37.6,527.2 35.4,539 38.7,547.6 43,554.1 48.3,554.1 49.4,561.6 51.6,568 50.5,576.6 51.1,589.5 54.1,600.3 58,612.1 64.4,614.2 73,620.7 82.7,623.9 81.6,634.6 85.9,641.1 91.3,643.6 96.7,651.4 105.3,652.9 109.5,658.3 110.6,665.1 103.1,670.7 98.8,676.5 99.2,683 107.4,690.9 116,700.1 123.5,702.3 135.3,706.6 139.6,711.5 139.2,716.2 133.2,718.4 124.6,719.5 122.4,724.8 128.9,731.3 135.3,738.8 138.5,747.4 138.5,756 135.3,765.7 134.3,774.2 137.5,779.6 147.8,788.2 151.4,795.7 154.7,803.2 160,807.5 164.3,816.1 167.1,824.7 166.5,834.4 162.8,839.8 163.3,844.1 168.6,848.4 171.8,855.9 174.4,861.2 182.6,864.9 186.9,865.5 193.3,864.5 199.8,865.5 204.5,869.8 206.6,876.3 206.2,884.9 207.9,892.4 211.6,895 217,894.1 222.3,898.8 226.6,904.2 232,907.9 236.3,908.9 247,911.1 257.8,916.4 268.5,920.7 273.9,928.3 279.2,937.9 283.5,946.5 286.8,954 292.1,960.5 305,969.1 311.5,975.5 314,984.1 315.3,993.8 319,1002.4 324.4,1011 332.9,1016.3 338.3,1021.7 345.8,1021.3 352.3,1022.8 352.7,1029.2 350.1,1038.9 351.2,1044.3 356.6,1050.7 361.9,1060.4 368.4,1062.9 373.8,1066.8 375.9,1075.4 372.7,1081.8 368.4,1087.2 371.6,1091.5 378.1,1097.3 384.5,1106.5 384.5,1127 386.6,1137.7 396.3,1140.9 400.6,1147.4 403.4,1152.7 408.1,1151.7 415,1148 415,1147.4 419.3,1148.4 422.5,1159.2 425.7,1168.8 430,1174.2 435.4,1177.4 442.9,1177.4 449.4,1186 456.9,1195.7 463.3,1207.5 469.8,1218.2 474.1,1221.5 479.4,1216.1 483.7,1215 489.1,1219.3 495.6,1220.4 498.8,1225.8 498.3,1235.4 505.2,1237.6 512.7,1237.6 516,1233.3 517,1225.8 526.7,1228.3 534.2,1229 537.4,1233.3 536.4,1238.6 541.7,1245.1 543.5,1251.5 552.5,1249.4 560,1249.4 563.2,1253.7 569.7,1266.6 576.1,1277.3 575,1292.3 572.9,1307.4 574,1316 581.5,1317.1 586.8,1317.1 592.2,1322.4 594.4,1326.1 593.3,1323.9 593.3,1331.4 589,1340 585.8,1348.6 585.8,1359.4 587.9,1372.3 586.8,1380.8 582.5,1391.6 579.3,1397 578.7,1410.9 574,1415.2 565.4,1418.4 562.8,1424.9 566.4,1430.3 571.8,1432.4 584.7,1432.8 586.8,1436.7 587.9,1444.2 586.4,1451.7 589,1457.1 594.4,1459.9 603,1455.6 609.4,1459.3 612.6,1464.6 613,1477.5 616.9,1488.3 620.1,1496.8 620.8,1505.4 619.1,1514 615.8,1522.6 616.9,1529.1 620.8,1536.6 618,1544.1 613.7,1550.5 615.8,1559.1 610.5,1567.7 607.9,1575.2 608.3,1582.8 610.5,1595.7 611.5,1604.2 615.8,1606.4 627.7,1606.4 634.1,1612.8 640.5,1620.4 645.9,1625.7 645.9,1830 0,1830 0,465.6Z" fill="#cccccc"/>
<path d="M1526.4,1346.5 1545.7,1363.7 1571.5,1383 1620.9,1408.8 1660,1428.1 1660,1466.8 1642.4,1462.5 1610.2,1456 1588.7,1450.7 1562.9,1444.2 1556.5,1428.1 1550,1410.9 1541.4,1389.4 1532.8,1368Z M1660,1690.2 1657.4,1679.4 1653.1,1666.5 1642.4,1642.9 1640.2,1630 1646.7,1617.1 1653.1,1604.2 1660,1582.8Z M2042.3,771 2053.1,761.4 2061.7,763.5 2075,768.9 2075,910 1986.5,910 1995.1,903.1 2008,894.5 2020.9,884.9 2031.6,879.5 2040.2,876.3 2046.6,869.8 2045.6,860.2 2040.2,849.4 2035.9,838.7 2038.1,830.1 2042.3,817.2 2041.3,802.2 2040.2,789.3Z M1963.3,881.6 1966.1,890.2 1971.5,898.8 1977.9,910 1956.4,910 1960.7,898.8 1954.7,890.2 1959.7,879.5Z M1913.5,910 1930.7,903.1 1945.7,896.7 1954.3,892.4 1958.6,898.8 1954.3,910Z M1660,910 2075,910 2075,1325 1660,1325Z M1660,1325 2075,1325 2075,1740 1660,1740Z M1874.8,1733.1 2075,1733.1 2075,1831.9 1874.8,1831.9Z M2075,495 2490,495 2490,910 2075,910Z M2075,910 2490,910 2490,1325 2075,1325Z M2075,1325 2490,1325 2490,1833.7 2075,1833.7Z M1905,1729.8 1905,1828.9 1689.1,1828.9 1684,1798.1 1680.6,1764 1676.1,1736.6 1668.6,1729.8Z" fill="#dcf0fd" fill-rule="nonzero"/>
<path d="M1660,910 1861.9,910 1859.8,922.9 1854.4,930.4 1848,922.9 1846.9,937.9 1849,953 1853.3,972.3 1866.2,973.4 1874.8,966.9 1887.7,962.6 1900.6,959.4 1902.7,942.2 1917.8,944.4 1917.8,963.7 1915.6,991.6 1902.7,1006.7 1892,1026 1879.1,1047.5 1866.2,1064.7 1858.7,1070 1853.3,1060.4 1844.7,1073.3 1810.4,1092.6 1797.5,1096.9 1793.2,1090.4 1745.9,1103.3 1703,1110.8 1715.8,1142 1720.1,1150.6 1728.7,1165.6 1745.9,1178.5 1763.1,1186 1776,1187.1 1793.2,1193.5 1795.3,1197.8 1788.9,1204.3 1782.4,1219.3 1778.1,1227.9 1771.7,1238.6 1769.5,1251.5 1767.4,1262.3 1758.8,1270.9 1754.5,1275.2 1752.4,1294.5 1745.9,1307.4 1743.8,1325 1660,1325Z M1969.3,953 1973.6,946.5 1988.6,940.1 1997.2,928.3 2014.4,942.2 2012.3,963.7 2008,976.6 1982.2,995.9 1956.4,1017.4 1947.8,1030.3 1939.2,1043.2 1928.5,1058.2 1921,1071.1 1907,1103.3 1904.9,1111.9 1900.6,1109.8 1902.7,1099 1913.5,1081.8 1919.9,1073.3 1930.7,1058.2 1934.9,1043.2 1941.4,1028.1 1954.3,1015.3 1943.5,1004.5 1960.7,980.9 1965,959.4Z M1904.9,1113 1896.3,1124.8 1883.4,1144.1 1871.6,1167.8 1853.3,1189.2 1844.7,1206.4 1834,1227.9 1823.3,1247.2 1810.4,1270.9 1799.6,1296.6 1788.9,1313.8 1780.3,1325 1765.3,1325 1773.8,1313.8 1782.4,1296.6 1786.7,1275.2 1797.5,1266.6 1801.8,1262.3 1819,1245.1 1821.1,1232.2 1829.7,1223.6 1831.8,1206.4 1840.4,1184.9 1853.3,1167.8 1864.1,1146.3 1874.8,1131.2 1900.6,1114.1Z M2075,915.4 2046.6,935.8 2020.9,959.4 2015.5,966.9 2016.6,957.3 2025.2,946.5 2038.1,933.6 2057.4,918.6 2068.1,910 2075,910Z M1660,1325 1743.8,1325 1739.5,1335.7 1735.2,1344.3 1730.9,1347.6 1729.8,1355.1 1732.6,1368 1728.7,1376.6 1722.3,1387.3 1720.1,1395.9 1712.6,1405.6 1711.6,1413.1 1713.7,1421.7 1707.3,1422.7 1700.8,1423.8 1694.4,1421.7 1694.4,1428.1 1681.5,1430.3 1672.9,1428.1 1664.3,1426 1660,1426Z M1660,1472.1 1675,1473.2 1678.3,1492.5 1680.4,1509.7 1680.4,1544.1 1672.9,1552.7 1666.4,1559.1 1660,1580.6Z M1783.5,1325 1776,1342.2 1767.4,1365.8 1758.8,1387.3 1752.4,1408.8 1745.9,1428.1 1742.7,1445.3 1741.2,1462.5 1739,1479.7 1735.2,1490.4 1736.3,1496.8 1734.1,1518.3 1730.9,1539.8 1729.8,1561.3 1730.9,1582.8 1732,1604.2 1734.1,1625.7 1736.3,1647.2 1738.4,1662.2 1740.6,1685.9 1743.8,1707.3 1747,1724.5 1749.1,1740 1730.9,1740 1735.2,1731 1733,1724.5 1728.7,1713.8 1732,1700.9 1727.7,1690.2 1728.7,1677.3 1724.4,1662.2 1725.5,1651.5 1726.6,1640.8 1724.4,1625.7 1723.4,1604.2 1722.3,1584.9 1722.3,1567.7 1721.2,1552.7 1723.4,1539.8 1721.2,1533.4 1722.3,1518.3 1724.4,1507.6 1726.6,1494.7 1730.9,1489.3 1722.3,1486.1 1723.4,1475.4 1729.8,1471.1 1727.7,1458.2 1730.9,1449.6 1728.7,1441 1733,1434.5 1740.6,1428.1 1736.3,1421.7 1734.1,1415.2 1735.2,1402.3 1739.5,1389.4 1745.9,1376.6 1750.2,1365.8 1755.6,1361.5 1754.5,1348.6 1756.7,1340 1761,1333.6 1765.3,1325Z M1749.9,1738.4 1754,1760.6 1764.3,1798.1 1775.2,1828.9 1760.8,1828.9 1754,1805 1747.2,1781.1 1740.3,1760.6 1734.2,1738.4Z" fill="#ffffff" fill-rule="nonzero"/>
<path d="M1660,910 1846.9,910 1846.9,937.9 1838.3,942.2 1829.7,947.6 1822.2,955.1 1817.9,964.8 1814.7,969.1 1819,972.3 1831.8,974.4 1842.6,978.7 1849,987.3 1851.2,995.9 1846.9,1004.5 1849,1011 1840.4,1017.4 1836.1,1026 1835.1,1032.4 1844.7,1047.5 1853.3,1060.4 1844.7,1073.3 1827.5,1081.8 1810.4,1090.4 1806.1,1084 1793.2,1079.7 1780.3,1071.1 1735.2,1070 1722.3,1071.5 1713.7,1070 1710.5,1064.7 1709.8,1056.1 1712.6,1045.3 1709.4,1038.9 1703,1037.8 1660,1038.9Z" fill="#d3dfe8" fill-rule="nonzero"/>
<path d="M1660,910 1830.8,910 1830.8,937.9 1825.4,942.2 1819,953 1793.2,954 1786.7,956.2 1780.3,953 1776,948.7 1763.1,947.6 1761,951.9 1767.4,956.2 1776,960.5 1788.9,974.4 1797.5,983 1810.4,989.5 1820,995.9 1814.7,1002.4 1806.1,1009.9 1810.4,1015.3 1821.1,1023.8 1822.2,1056.1 1816.8,1063.6 1780.3,1062.9 1750.2,1062.5 1743.8,1058.2 1737.3,1052.8 1728.7,1052.8 1726.6,1047.5 1730.9,1041 1736.3,1036.7 1742.7,1029.2 1739.5,1023.8 1733,1019.5 1727.7,1015.3 1726.6,978.7 1725.5,949.7 1713.7,944.4 1685.8,945.4 1680.4,948.7 1668.6,959.4 1660,963.7 1660,963.7Z M1718,1058.2 1722.3,1053.5 1728.7,1053.5 1729.2,1060.4 1722.3,1064.2Z M1660,994.8 1662.1,995.9 1663.2,1002.4 1660,1004.5Z M1969.3,953 1988.6,940.1 1995.1,935.8 1991.9,957.3 1986.5,961.6 1971.5,965.8Z M2075,495 2490,495 2490,611 2468.1,612.1 2459.5,606.7 2440.2,612.1 2423,615.3 2410.1,620.7 2392.9,621.7 2371.4,616.4 2349.9,611 2332.8,606.7 2311.3,604.5 2296.2,605.6 2294.1,617.4 2281.2,618.5 2268.3,623.9 2261.9,629.3 2255.4,632.5 2242.5,634.6 2229.7,632.5 2225.4,615.3 2212.5,615.3 2203.9,623.9 2195.3,632.5 2191,623.9 2186.7,615.3 2178.1,617.4 2160.9,618.5 2152.3,617.4 2150.2,602.4 2151.3,587.4 2148,580.9 2141.6,568 2113.7,571.3 2102.9,570.2 2100.8,576.6 2102.9,587.4 2105.1,596 2118,606.7 2121.2,615.3 2128.7,621.7 2131.9,632.5 2133,654 2139.4,655 2154.5,656.1 2165.2,666.8 2180.3,672.2 2184.5,681.9 2193.1,691.5 2201.7,700.1 2225.4,720.5 2234,730.2 2249,739.9 2203.9,760.3 2171.7,774.2 2145.9,789.3 2118,806.5 2111.5,798.9 2100.8,810.8 2093.3,811.8 2087.9,804.3 2084.7,793.6 2086.8,780.7 2083.6,766.7 2075,764.6Z" fill="#faf5a0" fill-rule="nonzero"/>
<path d="M1660,914.3 1675,914.3 1677.2,920.7 1670.7,928.3 1660,929.3Z M1681.5,910 1703,910 1698.7,913.2 1683.6,913.2Z M1730.9,910 1763.1,910 1773.8,920.7 1786.7,932.6 1782.4,940.1 1771.7,941.1 1761,931.5 1756.7,922.9 1754.5,914.3 1733,911.1Z M1772.8,982 1780.3,973.4 1788.9,980.9 1787.8,988.4 1774.9,989Z M1758.8,995.9 1765.3,989.5 1774.9,989.5 1773.8,995.9 1767.4,1003.4 1761,1001.3Z M2075,495 2149.1,495 2150.2,514.3 2148,568 2113.7,570.2 2105.1,569.1 2106.1,598.1 2107.2,662.5 2100.8,666.8 2093.3,673.3 2093.3,681.9 2075,681.9Z M2093.3,689.4 2100.8,683 2108.3,689.4 2100.8,698Z M2075,718.4 2077.1,722.7 2075,727Z M2244.7,495 2244.7,497.1 2238.3,504.7 2231.8,510 2227.5,517.6 2221.1,522.9 2205,522.9 2197.4,516.5 2191,510 2182.4,503.6 2180.3,495Z M2152.3,556.2 2176,556.2 2182.4,548.7 2188.8,540.1 2193.1,541.2 2199.6,548.7 2206,557.3 2209.3,563.7 2203.9,570.2 2152.3,570.2Z M2216.8,542.3 2222.1,539 2228.6,545.5 2223.2,548.7Z M2244.7,544.4 2253.3,538 2259.7,536.9 2259.7,545.5 2253.3,551.9 2245.8,551.9Z M2259.7,527.2 2267.2,521.9 2274.8,527.2 2275.8,536.9 2259.7,536.9Z M2276.9,536.9 2284.4,538 2292,545.5 2292,551.9 2284.4,551.3 2276.9,544.4Z M2292,551.9 2299.5,551.9 2308.1,557.3 2300.5,565.9 2293,559.4Z M2308.1,543.3 2314.5,535.8 2322,543.3 2323.1,551.9 2308.1,551.3Z M2235,555.1 2244.7,554.1 2246.8,559.4 2236.1,561.6Z M2251.1,570.2 2268.3,568 2276.9,575.6 2268.3,583.1 2253.3,583.1Z M2415.5,495 2415.5,510 2405.8,517.6 2397.2,529.4 2395.1,547.6 2377.9,547.6 2373.6,540.1 2354.2,546.6 2345.7,559.4 2329.5,560.5 2324.2,556.2 2324.2,551.9 2332.8,548.7 2338.1,542.3 2339.2,507.9 2339.2,495Z M2444.5,495 2438,499.3 2431.6,495Z" fill="#f79630" fill-rule="nonzero"/>
<path d="M1958.6,980.9 1969.3,965.8 1986.5,961.6 1991.9,957.3 1995.1,961.6 1977.9,980.9 1965,995.9Z M2405.8,538 2418.7,520.8 2425.1,516.5 2447.7,539 2433.7,550.8 2432.6,559.4 2444.5,576.6 2459.5,577.7 2474.5,562.7 2490,560.5 2490,612.1 2468.1,612.1 2459.5,606.7 2440.2,612.1 2423,615.3 2410.1,620.7 2392.9,621.7 2371.4,616.4 2349.9,611 2356.4,598.1 2358.5,609.9 2401.5,609.9 2410.1,602.4 2417.6,585.2 2402.6,570.2 2417.6,554.1Z M2294.1,589.5 2302.7,583.1 2322,577.7 2330.6,575.6 2341.4,576.6 2343.5,589.5 2332.8,596 2311.3,602.4 2296.2,604.5Z M2121.2,615.3 2128.7,621.7 2131.9,632.5 2133,654 2124.4,654 2123.3,623.9Z M2139.4,664.7 2148,660.4 2160.9,677.6 2169.5,701.2 2160.9,692.6 2148,679.7Z M2173.8,744.2 2182.4,735.6 2188.8,731.3 2191,742 2188.8,759.2 2173.8,766.7Z M2156.6,776.4 2165.2,769.9 2173.8,766.7 2145.9,783.9 2118,797.9 2111.5,792.5 2120.1,788.2 2133,788.2Z M2186.7,617.4 2203.9,617.4 2212.5,632.5 2203.9,623.9 2195.3,632.5 2191,623.9Z" fill="#d3dfe8" fill-rule="nonzero"/>
<path d="M1451.2,910 1458.7,910 1459.4,931.5 1453.4,937.9 1445.8,934.7 1439.4,930.4 1427.6,928.9 1431.9,925 1442.6,921.8 1448,916.4Z M1463.9,960 1467.3,956.6 1470.8,960 1467.3,963.5Z M1823.3,1075.4 1827.5,1069 1844.7,1063.6 1852.2,1060.4 1846.9,1073.3 1831.8,1081.8 1824.3,1084Z M2188.8,716.2 2199.6,712 2223.2,720.5 2242.5,739.9 2203.9,758.1 2188.8,761.4 2191,742 2188.8,731.3 2182.4,727Z M2238.3,606.7 2246.8,602.4 2255.4,611 2255.4,621.7 2242.5,623.9Z M2390.8,664.7 2427.3,632.5 2455.2,602.4 2467,604.5 2464.9,632.5 2457.3,641.1 2418.7,658.3 2392.9,669Z M2259.7,763.5 2264,756 2281.2,742 2283.4,736.7 2300.5,724.8 2317.7,716.2 2330.6,708.7 2334.9,709.8 2328.5,718.4 2311.3,729.1 2289.8,744.2 2272.6,757.1 2261.9,765.7Z M2075,879.5 2087.9,875.2 2113.7,855.9 2139.4,836.5 2169.5,821.5 2203.9,806.5 2225.4,800 2238.3,791.4 2244.7,782.8 2246.8,795.7 2244.7,804.3 2234,812.9 2208.2,825.8 2182.4,838.7 2160.9,849.4 2139.4,862.3 2118,877.3 2096.5,894.5 2083.6,907.4 2081.4,910 2075,910Z M2338.1,706.6 2341.4,699.1 2352.1,691.5 2375.7,679.7 2410.1,662.5 2444.5,645.4 2461.6,636.8 2490,626 2490,630.3 2461.6,645.4 2418.7,666.8 2375.7,689.4 2345.7,705.5Z" fill="#ffffff" fill-rule="nonzero"/>
<path d="M268.1,89 268.5,203.5 268.5,210 264.2,215.3 266.4,219.6 265.9,357.1 265.3,496.1 M-1.1,358.6 265.9,357.3 416.1,357.3 M265.3,493.9 264.6,628.2 263.1,892.4 M264.6,628.8 416.1,630.3 M209.4,892 263.1,892.4 416.1,893 M637.3,89 638.4,356.7 638.8,496.1 M413.9,357.3 638.4,357.1 642.7,358 648.1,358.6 652.4,356.2 658.8,355.2 664.2,357.7 831.1,357.7 M638.4,493.9 639.5,630.8 M413.9,630.5 639.5,631.6 831.1,632 M647.4,632.5 647,911.1 M413.9,893 647,894.1 M647.4,908.9 648.7,995.5 831.1,986.3 M609.4,1455.6 656.7,1435 676,1457.1 831.1,1457.7 M958.5,89 958.9,496.1 M828.9,357.7 958.5,357.7 M959.5,262.2 1156.5,339.9 1163.6,342.5 M1246.1,233.6 1164,342.5 1246.1,432.3 M958.9,493.9 959.5,631.4 960.4,911.1 M828.9,631.8 959.5,631.4 1206.3,631 1207.6,634.6 1208.1,649.7 1210.6,911.1 M1208.1,649.7 1246.1,618.5 M828.9,986.9 960.6,980.2 1211.3,979.2 1246.1,979.2 M960,908.9 960.6,980.2 961,1326.1 M1210.2,908.9 1211.3,979.2 M961,1323.9 961,1403.4 960.4,1456 M961,1403.4 1052.3,1400.8 1053,1410.5 1074.4,1410.5 1073.8,1400.6 1093.8,1399.8 1094.6,1409.8 1106.7,1410.5 1108.6,1455.6 M828.9,1457.7 879.8,1458.2 960.4,1456 M879.8,1458.2 879.4,1625.7 M1108.6,1455.6 1103.9,1457.1 1104.9,1460.8 1108.2,1463.5 1114.6,1465.7 1118.9,1468.9 1123.6,1474.3 1122.1,1529.5 1135.5,1530.6 1136.1,1581.3 1162.5,1582.8 1162.3,1625.7 M1108.6,1455.6 1246.1,1458.6 M1265.4,89 1275.1,92.9 1279.4,100.4 1281.1,107.9 M1291.2,109 1293.3,116.5 1300.8,115.4 1307.3,112.2 1315.9,115.4 1319.1,120.8 1314.8,126.2 1315.5,134.8 1310.5,138 1309.4,143.4 1314.8,154.1 1313.7,162.7 1319.1,171.3 1320.6,178.8 1323.4,183.1 1332,176.7 1468.4,178.2 M1526.4,89 1468.4,178.2 1459.4,192.8 1528.5,270.7 1589.1,336.7 M1309.4,144.4 1243.9,233.6 M1528.5,271.2 1289,482.8 M1661.1,273.3 1589.1,336.7 1516.1,405.4 1593,496.1 M1243.9,429.1 1289,482.8 1299.8,496.1 M1661.1,478.5 1643.5,496.1 M1298.7,493.9 1335.2,541.8 1385.7,600.3 M1335.2,541.8 1243.9,619.2 M1385.7,600.3 1427.6,584.1 1429.7,582 1433,582 1438.3,588.4 1444.8,591.7 1454.4,599.6 1462,602 1468.4,606.3 1473.8,607.1 1479.1,610.6 1489.9,608.4 1499.5,606.3 1502.8,610.6 1504.9,609.9 1645.6,493.9 M1591.9,493.9 1614.5,519.7 M1385.7,600.3 1341.2,619.2 1492,911.1 M1504.9,609.9 1510.3,616.4 1515.7,623.9 1522.1,630.3 1529.6,635.1 1530.3,643.2 1532.8,654 1537.1,663.6 1540.4,673.3 1544.7,681.9 1546.8,688.3 1550,690.9 1565.1,690.9 1569.4,692.6 1574.7,695.8 1586.5,698 1597.3,696.9 1608,696.9 1613.4,695.8 1618.8,696.9 1624.1,702.3 1626.9,706.6 1627.3,716.2 1629.5,724.8 1629.5,735.6 1631.6,739.9 1635.9,742.5 1645.6,743.7 1647.8,750.6 1653.1,748.9 1658.5,746.3 1661.1,746.7 M1661.1,891.3 1648.8,911.1 M1243.9,979.4 1449.1,979.2 M1265.4,979.2 1266.5,1326.1 M1492,912.1 1445.8,950.8 1448,956.2 1445.2,965.8 1446.9,974.4 1449.1,979.8 1455.5,984.8 1460.9,991.6 1468.4,994.2 1477,992.7 1483.4,989 1486.7,988.4 1494.2,991.6 1498.5,997 1499.5,1002.4 1498,1011 1497.4,1016.3 1498.5,1020.6 1496.3,1023.8 1490.9,1027.1 1489.9,1036.7 1489.9,1044.3 1492,1048.5 1495.2,1051.8 1497.4,1056.1 1501.7,1056.1 1502.8,1049.6 1506,1046.4 1510.3,1046.4 1516.1,1050.1 1517.4,1056.1 1521,1055 1524.2,1050.7 1529.6,1056.1 1541.4,1058.2 1545.7,1060.4 1554.3,1058.6 1562.9,1059.3 1569.4,1057.8 1576.9,1060.4 1580.1,1064.7 1583.3,1075.4 1588.7,1079.7 1595.1,1081.8 1601.6,1082.9 1608,1089.4 1613.4,1094.3 1623.1,1097.3 1638.1,1099.5 1646.7,1104.4 1653.1,1107.6 1661.1,1108.7 M1492,912.1 1629.5,939 1646.7,916.4 1654.2,918.6 1656.3,924 1661.1,920.7 M1498,1015.3 1426.5,1084 1422.9,1231.6 M1361.4,1234.4 1422.9,1231.6 1433,1233.3 1436.2,1238.6 1451.2,1240.8 1459.8,1246.2 1462,1259.1 1470.5,1266.6 1483,1282 1661.1,1277.3 M1361.4,1234.4 1362.1,1326.1 M1243.9,1458.6 1405,1460.8 1404,1741.1 M1266.5,1323.9 1268,1458.6 M1362.1,1323.9 1363.1,1459.9 M1406.1,1489.3 1415.8,1486.1 1417.9,1476.4 1423.3,1474.3 1434,1470 1446.9,1470.6 1457.7,1471.5 1468.4,1468.5 1474.8,1464.6 1482.4,1465.1 1490.9,1461.4 1492,1451.7 1500.6,1449.6 1508.1,1443.6 1512.4,1443.1 M1802.8,89 1802.2,100.4 1790,172.8 M1658.9,275.9 1790,172.8 1928.1,337.8 1954.7,365.7 M1928.1,338.8 1756.7,486.6 M2076.1,259.4 1954.7,366.1 M1954.7,366.1 1957.5,368.9 1965,371.7 1975.8,377.5 1986.5,380.7 1995.1,382.9 2001.5,385 2005.8,391.5 2012.3,401.1 2014.4,407.6 2020.9,417.2 2019.2,425.8 2024.1,434.4 2028.4,443 2031.6,448.4 2038.1,452 2044.5,459.1 2053.1,465.6 2059.5,468.8 2061.7,476.3 2067.1,481.7 2070.3,487.1 2076.1,491.3 M1658.9,482.1 1694.4,454.8 1699.7,454.8 1706.2,459.8 1713.7,458.5 1718,464.5 1724.4,467.7 1732,472 1739.5,471.4 1744.8,474.2 1748.1,481.7 1755.6,484.9 1758.8,490.3 1758.8,496.1 M1797.5,496.1 1793.2,488.1 1796.4,485.5 1809.3,495 M2052,89 2076.1,115.4 M1757.7,493.9 1758.8,499.3 1765.3,501 1776,500.4 1783.5,501.9 1786.7,497.1 1793.2,496.1 1797.5,493.9 M1808.2,493.9 1817.9,504.7 1818.5,515.4 1821.1,521.9 1825.4,527.2 1829.7,534.7 1834.4,541.2 1832.9,558.4 1830.8,562.7 1826.5,565.9 1829.7,569.1 1833.6,570.2 1829.7,652.9 1831.8,657.2 1837.9,660 1837.2,664.7 1838.7,671.1 1837.9,677.6 1840.4,684 M1840.4,684 1846.9,680.8 1853.3,681.9 1863,679.3 1869.4,681.9 1877,687.2 1880.2,689 1881.2,684 1884.5,683 1892,684 1894.1,681.4 1897.4,686.2 1900.6,690.9 1909.2,691.5 1911.3,699.1 1926.4,701.6 1937.1,705.5 1950,706.6 1957.5,710.9 1962.9,715.2 1967.2,717.3 1970.4,715.2 1971.5,708.7 1977.9,704.4 M1977.9,704.4 1974.7,699.1 1972.5,689.4 1975.3,678.7 1971.5,667.9 1965,666.4 1961.8,659.3 1962.9,656.1 1996.8,631.4 2003.7,630.3 2068.1,608.4 2076.1,602.4 M1977.9,704.4 1986.5,710.9 1994,715.2 1998.3,721.6 2005.8,725.9 2012.3,737.7 2018.7,743.1 2024.1,748 2027.3,747.4 2035.9,737.7 M1840.4,684 1728.7,773.2 1724.4,779.6 1658.9,890.2 M1658.9,746.7 1664.3,748.5 1670.7,753.8 1676.1,760.3 1678.3,764.6 1684.7,766.7 1687.9,772.1 1691.1,768.9 1695.4,767.4 1698.7,763.9 1701.9,767.4 1711.6,767.8 1713.7,774.2 1718,775.3 1724.4,780.3 M1864.1,846.6 2038.1,817.8 M1864.1,846.6 1859.8,853.7 1860.8,863.4 1868.4,869.8 1872.7,876.3 1879.1,876.9 1887.7,883.8 1896.3,888.1 1907,889.8 M2034.2,847.3 2031.2,879.5 M2076.1,514.3 2067.1,510 2068.1,501.4 2071.3,493.9 M1676.1,908.9 1677.2,918.6 1685.8,922.9 1692.2,931.5 1700.8,932.6 1703,942.2 1713.7,948.7 1718,946.5 1715.8,937.9 1726.6,933.6 1735.2,937.9 1745.9,936.9 1752.4,942.2 1758.8,937.9 1757.7,930.4 1763.1,931.5 1764.2,942.2 1765.3,948.7 1773.8,949.7 1777.1,956.2 1786.7,961.6 1787.8,969.1 M1806.1,985.2 1857.6,1067.9 M1658.9,1278.4 1753.4,1275.2 M1801.8,1262.3 1812.5,1264.4 M1734.1,1442.7 1740.6,1442.7 M2073.9,115.4 2140.5,191.1 2089.6,248.6 2073.9,260 M2089.6,248.6 2101.9,257.9 2287.7,418.3 M2276.9,89 2257.6,148.7 2101.9,257.2 M2285.5,496.1 2287.7,418.3 2467,301.2 2491.1,276.5 M2427.3,89 2426.2,95 2418.7,98.3 2412.2,100.4 2408.4,103.6 2413.3,110.1 2418.7,115.4 2422.6,120.8 2421.3,126.2 2425.1,130.5 2438,133.7 2446.6,136.9 2452,142.3 2455.2,148.7 2457.3,159.5 2460.6,164.8 2465.9,168.1 2471.3,170.2 2470.2,175.6 2465.5,181.4 2469.2,187.4 2475.6,193.8 2485.3,196.4 2491.1,198.6 M2073.9,514.3 2079.3,522.9 2081.4,540.1 2096.5,547.6 2100.8,557.3 2101.9,565.9 M2101.9,585.2 2073.9,603.5 M2285.5,493.9 2282.3,615.3 M2154.5,582.6 2201.7,580.5 2203.9,583.1 2225.4,583.1 M2251.1,597.7 2282.3,596.4 M1232.7,1748.6 1404.2,1748.6 M1404.2,1736.6 1404.2,1828.2" fill="none" stroke="#000" stroke-width="1.5" stroke-linejoin="round"/>
<path d="M1511.4,1341.1 1519.9,1336.8 1522.1,1346.5 1517.8,1352.9 1524.2,1359.4 1532.8,1362.6 1538.2,1357.2 1542.5,1365.8 1541.4,1371.2 1550,1372.3 1555.4,1378.7 1562.9,1375.5 1565.1,1383 1564,1389.4 1569.4,1395.9 1576.9,1400.2 1574.7,1406.6 1580.1,1413.1 1586.5,1415.2 1584.4,1421.7 1590.8,1426 1591.9,1434.5 1599.4,1442.1 1608,1441 1614.5,1432.4 1620.9,1428.1 1623.1,1419.5 1618.8,1413.1 1627.3,1410.9 1631.6,1421.7 1644.5,1410.9 1640.2,1404.5 1648.8,1398 1651,1389.4 1661.7,1387.3 M1532.8,1380.8 1535,1388.4 1545.7,1391.6 1554.3,1393.7 1558.6,1400.2 1562.9,1410.9 1565.1,1420.6 1554.3,1419.5 1545.7,1417.4 1547.9,1426 1567.2,1426 1575.8,1428.1 1580.1,1434.5 1575.8,1441 1567.2,1442.1 1560.8,1449.6 1550,1451.7 1541.4,1458.2 1532.8,1453.9 1524.2,1451.7 1517.8,1453.9 1513.5,1445.3 1511.4,1443.1 M1513.5,1443.1 1524.2,1445.3 1530.7,1443.1 1541.4,1445.3 1545.7,1451.7 1550,1448.5 1560.8,1449.6 1571.5,1447.4 1584.4,1449.6 1588.7,1460.3 1591.9,1468.9 1605.9,1466.8 1620.9,1468.9 1635.9,1475.4 1642.4,1479.7 1639.2,1490.4 1644.5,1479.7 1648.8,1474.3 1661.7,1471.1 M1638.1,1438.8 1644.5,1445.3 1661.7,1449.6 M1648.8,1436.7 1661.7,1432.4 M1612.3,1323.9 1618.8,1333.6 1629.5,1335.7 1640.2,1331.4 1642.4,1346.5 1646.7,1355.1 1655.3,1359.4 1661.7,1357.2 M1631.6,1366.9 1644.5,1374.4 1653.1,1365.8 1661.7,1359.4 M1651,1340 1661.7,1342.2 M1661.7,1616.1 1653.1,1618.2 1640.2,1616.1 1634.9,1623.6 1633.8,1632.2 1631.6,1640.8 1634.9,1651.5 1635.9,1662.2 1642.4,1673 1644.5,1683.7 1661.7,1700.9 M1644.5,1683.7 1639.2,1688 1640.2,1698.8 1634.9,1703.1 1635.9,1713.8 1629.5,1718.1 1633.8,1726.7 1638.1,1733.1 1640.2,1741.7 M1640.2,1734.2 1648.8,1735.3 1661.7,1741.7 M2034.8,717.3 2029.5,719.5 2020.9,727 2018.7,731.3 2023,736.7 2028.4,735.6 2029,731.3 2035.9,730.2 2040.2,735.6 2044.5,744.2 2049.9,751.7 2053.1,758.1 2052,763.5 2046.6,767.4 2039.1,768.9 2033.8,765.7 2027.3,759.2 2025.2,754.9 2023,751.7 2014.4,749.5 2009.1,748.5 2004.8,751.7 2001.5,757.1 2003.7,762.4 2012.3,772.1 2020.9,778.5 2029.5,785 2038.1,792.5 2041.3,802.2 2042.3,817.2 2039.1,826.9 2035.9,836.5 2038.1,847.3 2043.4,858 2046.6,869.8 2041.3,876.3 2033.8,880.6 2028.4,881.6 2020.9,889.2 2008,896.7 1995.1,906.3 1990.8,911.7 M2034.8,717.3 2040.2,718.4 2041.3,722.7 2042.3,729.1 2050.9,735.6 2057.4,738.8 2060.6,744.2 2061.7,759.2 2066,762.4 2076.7,763.9 M1971.5,852.6 1969.3,858 1965,862.3 1959.7,864.5 1956.4,873.1 1952.1,879.5 1941.4,881.6 1952.1,882.7 1956.4,888.1 1960.7,896.7 1956.4,903.1 1950,911.7 M1971.5,852.6 1973.6,858 1969.3,868.8 1963.9,879.5 1962.9,884.9 1969.3,888.1 1971.5,896.7 1977.9,903.1 1975.8,911.7 M1907,881.6 1917.8,879.5 1921,883.8 1924.2,890.2 1921,896.7 1917.8,903.1 1917.8,911.7 M1910.2,881.6 1911.3,892.4 1907,896.7 1896.3,903.1 1885.5,907.4 1874.8,910.6 1844.7,911.7 M1836.1,908.9 1835.1,916.4 1839.4,925 1845.8,933.6 1846.9,937.9 1838.3,942.2 1829.7,947.6 1822.2,955.1 1817.9,964.8 1814.7,969.1 1808.2,966.9 1803.9,969.1 1808.2,972.3 1819,972.3 1831.8,974.4 1842.6,978.7 1849,987.3 1851.2,995.9 1846.9,1004.5 1849,1011 1840.4,1017.4 1836.1,1026 1835.1,1032.4 M1838.3,915.4 1846.9,913.2 1855.5,914.3 1859.8,922.9 1856.5,930.4 1866.2,924 1883.4,913.2 1892,908.9 M1858.7,1070 1866.2,1064.7 1874.8,1051.8 1885.5,1030.3 1892,1026 1902.7,1006.7 1909.2,991.6 1915.6,991.6 1916.7,974.4 1915.6,953 1917.8,944.4 1902.7,942.2 1903.8,953 1898.4,960.5 1887.7,962.6 1874.8,966.9 1866.2,974.4 1861.9,980.9 1858.7,984.1 1860.8,992.7 1866.2,995.9 1853.3,997 M1858.7,1070 1849,1081.8 1842.6,1094.7 1836.1,1103.3 1831.8,1116.2 1829.7,1124.8 1814.7,1129.1 1816.8,1122.7 1819,1116.2 1814.7,1109.8 1808.2,1107.6 1797.5,1114.1 1810.4,1117.3 M1995.1,928.3 1988.6,940.1 1973.6,946.5 1969.3,953 1965,959.4 1965,974.4 1960.7,980.9 1943.5,1004.5 1956.4,1011 1954.3,1016.3 1943.5,1026 1937.1,1038.9 1934.9,1043.2 1930.7,1058.2 1919.9,1073.3 1916.7,1079.7 1907,1103.3 1904.9,1111.9 M1995.1,928.3 2014.4,942.2 2012.3,963.7 2008,976.6 1982.2,1000.2 1956.4,1030.3 1939.2,1056.1 1922.1,1079.7 1907,1109.8 1904.9,1113 M2076.7,915.4 2046.6,935.8 2020.9,959.4 2015.5,966.9 2016.6,957.3 2025.2,946.5 2038.1,933.6 2057.4,918.6 2068.1,908.3 M1917.8,908.9 1919.9,920.7 1909.2,925 1922.1,931.5 1939.2,937.9 1947.8,927.2 1950,908.9 M1960.7,908.9 1956.4,922.9 1952.1,937.9 1971.5,940.1 1977.9,931.5 1995.1,922.9 1999.4,908.9 M2025.2,908.9 2029.5,920.7 2033.8,922.9 M2042.3,922.9 2053.1,918.6 2048.8,908.9 M1904.9,1113 1896.3,1124.8 1883.4,1144.1 1871.6,1167.8 1853.3,1189.2 1844.7,1206.4 1834,1227.9 1823.3,1247.2 1810.4,1270.9 1799.6,1296.6 1788.9,1313.8 1780.3,1326.7 M1900.6,1114.1 1887.7,1122.7 1874.8,1131.2 1877,1137.7 1864.1,1146.3 1853.3,1167.8 1840.4,1184.9 1840.4,1193.5 1831.8,1206.4 1829.7,1223.6 1821.1,1232.2 1820,1245.1 1814.7,1232.2 1799.6,1225.8 1792.1,1221.5 1797.5,1232.2 1801.8,1240.8 1795.3,1251.5 1799.6,1258 1797.5,1266.6 1786.7,1275.2 1784.6,1288.1 1782.4,1296.6 1773.8,1313.8 1765.3,1326.7 M1718,1144.1 1720.1,1150.6 1728.7,1165.6 1745.9,1178.5 1763.1,1186 1776,1187.1 1793.2,1193.5 1795.3,1197.8 1788.9,1204.3 1782.4,1219.3 1778.1,1227.9 1771.7,1238.6 1769.5,1251.5 1767.4,1262.3 1758.8,1270.9 1754.5,1275.2 1752.4,1294.5 1745.9,1307.4 1743.8,1326.7 M1743.8,1183.9 1750.2,1191.4 1758.8,1195.7 1765.3,1198.9 1761,1210.7 1754.5,1219.3 1743.8,1215 1742.7,1223.6 1745.9,1227.9 1737.3,1236.5 1726.6,1232.2 1716.9,1232.2 M1795.3,1092.6 1801.8,1099 1810.4,1107.6 1816.8,1116.2 1817.9,1124.8 M1783.5,1323.9 1776,1342.2 1767.4,1365.8 1758.8,1387.3 1752.4,1408.8 1745.9,1428.1 1742.7,1445.3 1741.2,1462.5 1739,1479.7 1735.2,1490.4 1736.3,1496.8 1734.1,1518.3 1730.9,1539.8 1729.8,1561.3 1730.9,1582.8 1732,1604.2 1734.1,1625.7 1736.3,1647.2 1738.4,1662.2 1740.6,1685.9 1743.8,1707.3 1747,1724.5 1749.1,1741.7 M1765.3,1323.9 1761,1333.6 1756.7,1340 1754.5,1348.6 1755.6,1361.5 1750.2,1365.8 1745.9,1376.6 1739.5,1389.4 1735.2,1402.3 1734.1,1415.2 1736.3,1421.7 1740.6,1428.1 1733,1434.5 1728.7,1441 1730.9,1449.6 1727.7,1458.2 1729.8,1471.1 1723.4,1475.4 1722.3,1486.1 1730.9,1489.3 1726.6,1494.7 1724.4,1507.6 1722.3,1518.3 1721.2,1533.4 1723.4,1539.8 1721.2,1552.7 1722.3,1567.7 1722.3,1584.9 1723.4,1604.2 1724.4,1625.7 1726.6,1640.8 1725.5,1651.5 1724.4,1662.2 1728.7,1677.3 1727.7,1690.2 1732,1700.9 1728.7,1713.8 1733,1724.5 1735.2,1731 1730.9,1741.7 M1744.8,1323.9 1739.5,1335.7 1735.2,1344.3 1730.9,1347.6 1729.8,1355.1 1732.6,1368 1728.7,1376.6 1722.3,1387.3 1720.1,1395.9 1712.6,1405.6 1711.6,1413.1 1713.7,1421.7 1707.3,1422.7 1703,1423.8 1696.5,1421.7 1695.4,1428.1 1681.5,1430.3 1675,1436.7 1668.6,1438.8 1658.9,1445.3 M1658.9,1467.8 1666.4,1471.1 1670.7,1462.5 1687.9,1458.2 1690.1,1453.9 1703,1453.9 1707.3,1456 1706.2,1475.4 1703,1490.4 1697.6,1494.7 1694.4,1507.6 1692.2,1518.3 1690.1,1531.2 1695.4,1537.7 1694.4,1546.2 1686.9,1550.5 1685.8,1557 1691.1,1565.6 1691.1,1576.3 1687.9,1580.6 1681.5,1581.7 1675,1576.3 1668.6,1572 1665.4,1565.6 1668.6,1557 1674,1552.7 1681.5,1555.9 1686.9,1559.1 M1658.9,1333.6 1668.6,1335.7 1679.3,1340 1675,1346.5 1676.1,1359.4 1678.3,1378.7 1670.7,1383 1672.9,1393.7 1671.8,1406.6 1681.5,1404.5 1683.6,1410.9 1690.1,1413.1 1685.8,1419.5 1677.2,1415.2 1672.9,1419.5 1658.9,1417.4 M1658.9,1346.5 1666.4,1352.9 1664.3,1365.8 1670.7,1372.3 1666.4,1380.8 1658.9,1383 M1658.9,1389.4 1666.4,1389.4 1670.7,1398 M1658.9,1436.7 1668.6,1432.4 1672.9,1436.7 1664.3,1445.3 1658.9,1448.5 M1664.3,1587.1 1672.9,1593.5 1677.2,1591.4 1685.8,1593.5 1687.9,1602.1 1691.1,1610.7 1685.8,1612.8 1679.3,1610.7 1678.3,1621.4 1687.9,1622.5 1683.6,1630 1680.4,1635.4 M1658.9,1616.1 1668.6,1617.1 1676.1,1616.1 1678.3,1621.4 M1674.6,1654.1 1679.3,1649.4 1684.7,1654.7 1679.8,1659.7 1674.6,1654.1 M1658.9,1685.9 1666.4,1690.2 1662.1,1698.8 1670.7,1707.3 1681.5,1703.1 1680.4,1696.6 1675,1694.5 M1672.9,1731 1677.2,1741.7 M2102.9,569.1 2099.7,574.5 2101.9,580.9 2109.4,585.2 2102.9,591.7 2105.1,596 2116.9,604.5 2121.2,615.3 2128.7,621.7 2131.9,632.5 2132.6,654 2129.8,664.7 2122.3,665.8 2114.7,658.3 2115.8,664.7 2126.6,666.8 2139.4,655 2153.4,656.1 2165.2,666.8 2181.3,672.9 2184.5,681.9 2193.1,691.5 2199.6,696.9 2201.7,701.2 2225.4,720.5 2229.7,722.7 2234,731.3 2249,739.9 2244.7,742 M2102.9,569.1 2113.7,571.3 2139.4,568 2145.9,578.8 2150.2,585.2 2152.3,602.4 2155.6,615.3 2151.3,619.2 2165.2,618.5 2178.1,619.6 2182.4,612.1 2186.7,617.4 2191,628.2 2184.5,635.7 2191,637.8 2198.5,642.1 2203.9,632.5 2210.3,621.7 2209.3,604.5 2212.5,606.7 2214.6,621.7 2221.1,630.3 2223.2,643.2 2216.8,649.7 2203.9,654 2199.6,649.7 2195.3,664.7 2194.2,666.8 2214.6,658.3 2242.5,645.4 2259.7,634.6 2264,626 2265.1,613.1 2261.9,607.8 2251.1,604.5 2246.8,596 2245.8,580.9 2249,572.3 2246.8,565.9 2241.5,561.6 2236.1,563.7 2234,574.5 2237.2,589.5 2231.8,596 2236.1,606.7 2234,617.4 2242.5,623.9 2251.1,628.2 2255.4,626 M2261.9,628.2 2268.3,623.9 2281.2,618.5 2294.1,617.4 2294.1,606.7 2296.2,598.1 2302.7,594.9 2304.8,600.3 2313.4,596 2322,589.5 2330.6,583.1 2343.5,583.1 2345.7,565.9 2352.1,550.8 2358.5,546.6 2373.6,541.2 2373.6,546.6 2362.8,548.7 2356.4,559.4 2354.2,576.6 2349.9,591.7 2341.4,602.4 2339.2,611 2328.5,616.4 2341.4,626 2343.5,634.6 2360.7,623.9 2362.8,628.2 2371.4,630.3 2360.7,634.6 2345.7,636.8 2328.5,641.1 2330.6,655 2345.7,649.7 2375.7,636.8 2397.2,628.2 2418.7,617.4 2423,612.1 2440.2,607.8 2453.1,602.4 2459.5,600.3 2464.9,608.8 2465.5,623.9 2461.6,634.6 2457.3,641.1 2444.5,643.2 2427.3,654 2410.1,662.5 2392.9,671.1 2375.7,679.7 2365,684 2352.1,691.5 2341.4,699.1 2338.1,706.6 2345.7,705.5 2375.7,689.4 2418.7,666.8 2461.6,645.4 2491.7,628.6 M2491.7,579.8 2483.1,587.4 2486.3,596 2481,606.7 2476.7,620.7 2491.7,618.5 M2259.7,763.5 2264,756 2281.2,742 2283.4,736.7 2300.5,724.8 2317.7,716.2 2330.6,708.7 2334.9,709.8 2328.5,718.4 2311.3,729.1 2289.8,744.2 2272.6,757.1 2261.9,765.7 2259.7,763.5 M2249,739.9 2203.9,760.3 2171.7,774.2 2145.9,789.3 2118,807.5 2111.5,798.9 2107.2,804.3 2100.8,810.8 2093.3,811.8 2087.9,804.3 2084.7,793.6 2087.9,780.7 2084.7,774.2 2083.6,766.7 2073.3,764.6 M2242.5,751.7 2246.8,759.2 2244.7,772.1 2242.5,782.8 2246.8,791.4 2246.8,800 2240.4,807.5 2225.4,816.1 2203.9,826.9 2182.4,837.6 2160.9,849.4 2139.4,863.4 2118,879.5 2096.5,895.6 2082.5,911.7 M2242.5,751.7 2229.7,763.5 2234,772.1 2225.4,780.7 2229.7,793.6 2223.2,800 2203.9,805.4 2186.7,810.8 2176,812.9 2167.4,824.7 2160.9,830.1 2145.9,825.8 2139.4,834.4 2141.6,838.7 2128.7,847.3 2115.8,855.9 2113.7,868.8 2107.2,875.2 2092.2,879.5 2087.9,881.6 2095.4,888.1 2085.7,892.4 2073.3,898.8 M2176,817.2 2203.9,810.8 2195.3,819.4 2180.3,827.9 2174.9,823.6 2176,817.2 M2156.6,709.8 2165.2,712 2176,709.8 2186.7,701.2 2199.6,702.3 2197.4,709.8 2182.4,716.2 2180.3,725.9 2169.5,720.5 2157.7,721.6 2156.6,709.8 M2115.8,815.1 2130.8,819.4 2133,823.6 M2073.3,919 2088.3,908.3 M1674.2,1096.2 1671.1,1095.2 1668,1090 1664.8,1085.9 1660.7,1085.4 1655.5,1087.4 1651.4,1093.1 1651.4,1098.3 1656.6,1101.4 1661.7,1103.5 1664.8,1108.7 1665.9,1115.9 1669,1120 1674.2,1122.1 M1676.1,1736.6 1680.6,1764 1684,1798.1 1689.1,1828.2 M1749.9,1738.4 1754,1760.6 1764.3,1798.1 1775.2,1828.2 M1734.2,1738.4 1740.3,1760.6 1747.2,1781.1 1754,1805 1760.8,1828.2" fill="none" stroke="#000" stroke-width="4.4" stroke-linejoin="round" stroke-linecap="round"/>
<path d="M1605.9,1317.1 1614.5,1320.3 1619.8,1326.7 M1646.7,1295.6 1644.5,1307.4 1646.7,1313.8 1642.4,1320.3 1638.1,1326.7 M1597.3,1402.3 1595.1,1410.9 1603.7,1419.5 1610.2,1428.1 M1545.7,1417.4 1552.2,1422.7 1562.9,1423.8 M1533.9,1381.9 1539.3,1388.4 M1513.5,1341.1 1519.9,1343.3 M1562.9,1375.5 1563.3,1383 M1640.2,1709.5 1641.3,1710.6 M1655.3,1711.6 1659.6,1713.8 M1888.8,1038.9 1889.8,1049.6 M1874.8,1058.2 1883.4,1060.4 M1874.8,1069 1887.7,1067.9 M1907,1049.6 1913.5,1045.3 1926.4,1041 1934.9,1042.1 M1917.8,1060.4 1926.4,1056.1 M1913.5,1071.1 1922.1,1069 M1892,1090.4 1900.6,1084 1898.4,1092.6 M1874.8,1107.6 1887.7,1102.2 1894.1,1104.4 1883.4,1111.9 M1853.3,1118.4 1870.5,1119.4 1885.5,1117.3 M1902.7,1104.4 1908.1,1103.3 M1786.7,972.3 1797.5,974.4 1808.2,972.3 M1784.6,991.6 1788.9,985.2 1801.8,984.1 M1834,1032.4 1838.3,1019.5 1846.9,1013.1 M1797.5,1116.2 1810.4,1121.6 M1695.4,1475.4 1698.7,1473.2 1700.8,1479.7 1698.7,1488.3 M1690.1,1522.6 1694.4,1524.8 1692.2,1533.4 M1686.9,1565.6 1689,1576.3 M1666.4,1671.3 1672.9,1675.6 M1672.9,1679.4 1681.5,1684.2 M1668.6,1588.1 1677.2,1593.5 M1658.9,1681.6 1664.3,1684.8 M2148,516.5 2139.4,531.5 2147,544.4 2143.7,559.4 2148,576.6 2150.2,585.2 M2215.7,546.6 2214.6,553 2221.1,559.4 2223.2,572.3 2229.7,576.6 2234,574.5 M2302.7,600.3 2311.3,596 2315.6,585.2 2313.4,575.6 M2171.7,785 2199.6,769.9 M2130.8,811.8 2143.7,800 M2206,782.8 2221.1,776.4 2216.8,787.1 M2114.7,657.2 2118,662.5 2128.7,664.7 M2260.8,772.1 2261,772.3 M2362.8,547.6 2373.6,542.3 M1735.2,1736.6 1736.9,1743.5 M1740.3,1767.4 1747.2,1770.8 M1745.5,1784.5 1754,1791.3 M1676.1,1731.5 1678.2,1753.7" fill="none" stroke="#000" stroke-width="7.5" stroke-linejoin="round" stroke-linecap="round"/>
<path d="M-1.1,465.6 3.2,466.6 9.7,469.9 4.3,477.4 9.7,483.8 15,489.2 15.5,496.1 15,495 14.6,504.7 18.3,509.6 26.9,509 31.8,513.3 34.4,521.9 37.6,527.2 35.4,539 38.7,547.6 43,554.1 48.3,554.1 49.4,561.6 51.6,568 50.5,576.6 51.1,589.5 54.1,600.3 58,612.1 64.4,614.2 73,620.7 82.7,623.9 81.6,634.6 85.9,641.1 91.3,643.6 96.7,651.4 105.3,652.9 109.5,658.3 110.6,665.1 103.1,670.7 98.8,676.5 99.2,683 107.4,690.9 116,700.1 123.5,702.3 135.3,706.6 139.6,711.5 139.2,716.2 133.2,718.4 124.6,719.5 122.4,724.8 128.9,731.3 135.3,738.8 138.5,747.4 138.5,756 135.3,765.7 134.3,774.2 137.5,779.6 147.8,788.2 151.4,795.7 154.7,803.2 160,807.5 164.3,816.1 167.1,824.7 166.5,834.4 162.8,839.8 163.3,844.1 168.6,848.4 171.8,855.9 174.4,861.2 182.6,864.9 186.9,865.5 193.3,864.5 199.8,865.5 204.5,869.8 206.6,876.3 206.2,884.9 207.9,892.4 211.6,895 217,894.1 222.3,898.8 226.6,904.2 232,907.9 236.3,908.9 247,911.1 257.8,916.4 268.5,920.7 273.9,928.3 279.2,937.9 283.5,946.5 286.8,954 292.1,960.5 305,969.1 311.5,975.5 314,984.1 315.3,993.8 319,1002.4 324.4,1011 332.9,1016.3 338.3,1021.7 345.8,1021.3 352.3,1022.8 352.7,1029.2 350.1,1038.9 351.2,1044.3 356.6,1050.7 361.9,1060.4 368.4,1062.9 373.8,1066.8 375.9,1075.4 372.7,1081.8 368.4,1087.2 371.6,1091.5 378.1,1097.3 384.5,1106.5 384.5,1127 386.6,1137.7 396.3,1140.9 400.6,1147.4 403.4,1152.7 408.1,1151.7 415,1148 415,1147.4 419.3,1148.4 422.5,1159.2 425.7,1168.8 430,1174.2 435.4,1177.4 442.9,1177.4 449.4,1186 456.9,1195.7 463.3,1207.5 469.8,1218.2 474.1,1221.5 479.4,1216.1 483.7,1215 489.1,1219.3 495.6,1220.4 498.8,1225.8 498.3,1235.4 505.2,1237.6 512.7,1237.6 516,1233.3 517,1225.8 526.7,1228.3 534.2,1229 537.4,1233.3 536.4,1238.6 541.7,1245.1 543.5,1251.5 552.5,1249.4 560,1249.4 563.2,1253.7 569.7,1266.6 576.1,1277.3 575,1292.3 572.9,1307.4 574,1316 581.5,1317.1 586.8,1317.1 592.2,1322.4 594.4,1326.1 593.3,1323.9 593.3,1331.4 589,1340 585.8,1348.6 585.8,1359.4 587.9,1372.3 586.8,1380.8 582.5,1391.6 579.3,1397 578.7,1410.9 574,1415.2 565.4,1418.4 562.8,1424.9 566.4,1430.3 571.8,1432.4 584.7,1432.8 586.8,1436.7 587.9,1444.2 586.4,1451.7 589,1457.1 594.4,1459.9 603,1455.6 609.4,1459.3 612.6,1464.6 613,1477.5 616.9,1488.3 620.1,1496.8 620.8,1505.4 619.1,1514 615.8,1522.6 616.9,1529.1 620.8,1536.6 618,1544.1 613.7,1550.5 615.8,1559.1 610.5,1567.7 607.9,1575.2 608.3,1582.8 610.5,1595.7 611.5,1604.2 615.8,1606.4 627.7,1606.4 634.1,1612.8 640.5,1620.4 645.9,1625.7" fill="none" stroke="#cccccc" stroke-width="5" stroke-linejoin="round" transform="translate(1.6,1.8)"/>
<path d="M-1.1,465.6 3.2,466.6 9.7,469.9 4.3,477.4 9.7,483.8 15,489.2 15.5,496.1 15,495 14.6,504.7 18.3,509.6 26.9,509 31.8,513.3 34.4,521.9 37.6,527.2 35.4,539 38.7,547.6 43,554.1 48.3,554.1 49.4,561.6 51.6,568 50.5,576.6 51.1,589.5 54.1,600.3 58,612.1 64.4,614.2 73,620.7 82.7,623.9 81.6,634.6 85.9,641.1 91.3,643.6 96.7,651.4 105.3,652.9 109.5,658.3 110.6,665.1 103.1,670.7 98.8,676.5 99.2,683 107.4,690.9 116,700.1 123.5,702.3 135.3,706.6 139.6,711.5 139.2,716.2 133.2,718.4 124.6,719.5 122.4,724.8 128.9,731.3 135.3,738.8 138.5,747.4 138.5,756 135.3,765.7 134.3,774.2 137.5,779.6 147.8,788.2 151.4,795.7 154.7,803.2 160,807.5 164.3,816.1 167.1,824.7 166.5,834.4 162.8,839.8 163.3,844.1 168.6,848.4 171.8,855.9 174.4,861.2 182.6,864.9 186.9,865.5 193.3,864.5 199.8,865.5 204.5,869.8 206.6,876.3 206.2,884.9 207.9,892.4 211.6,895 217,894.1 222.3,898.8 226.6,904.2 232,907.9 236.3,908.9 247,911.1 257.8,916.4 268.5,920.7 273.9,928.3 279.2,937.9 283.5,946.5 286.8,954 292.1,960.5 305,969.1 311.5,975.5 314,984.1 315.3,993.8 319,1002.4 324.4,1011 332.9,1016.3 338.3,1021.7 345.8,1021.3 352.3,1022.8 352.7,1029.2 350.1,1038.9 351.2,1044.3 356.6,1050.7 361.9,1060.4 368.4,1062.9 373.8,1066.8 375.9,1075.4 372.7,1081.8 368.4,1087.2 371.6,1091.5 378.1,1097.3 384.5,1106.5 384.5,1127 386.6,1137.7 396.3,1140.9 400.6,1147.4 403.4,1152.7 408.1,1151.7 415,1148 415,1147.4 419.3,1148.4 422.5,1159.2 425.7,1168.8 430,1174.2 435.4,1177.4 442.9,1177.4 449.4,1186 456.9,1195.7 463.3,1207.5 469.8,1218.2 474.1,1221.5 479.4,1216.1 483.7,1215 489.1,1219.3 495.6,1220.4 498.8,1225.8 498.3,1235.4 505.2,1237.6 512.7,1237.6 516,1233.3 517,1225.8 526.7,1228.3 534.2,1229 537.4,1233.3 536.4,1238.6 541.7,1245.1 543.5,1251.5 552.5,1249.4 560,1249.4 563.2,1253.7 569.7,1266.6 576.1,1277.3 575,1292.3 572.9,1307.4 574,1316 581.5,1317.1 586.8,1317.1 592.2,1322.4 594.4,1326.1 593.3,1323.9 593.3,1331.4 589,1340 585.8,1348.6 585.8,1359.4 587.9,1372.3 586.8,1380.8 582.5,1391.6 579.3,1397 578.7,1410.9 574,1415.2 565.4,1418.4 562.8,1424.9 566.4,1430.3 571.8,1432.4 584.7,1432.8 586.8,1436.7 587.9,1444.2 586.4,1451.7 589,1457.1 594.4,1459.9 603,1455.6 609.4,1459.3 612.6,1464.6 613,1477.5 616.9,1488.3 620.1,1496.8 620.8,1505.4 619.1,1514 615.8,1522.6 616.9,1529.1 620.8,1536.6 618,1544.1 613.7,1550.5 615.8,1559.1 610.5,1567.7 607.9,1575.2 608.3,1582.8 610.5,1595.7 611.5,1604.2 615.8,1606.4 627.7,1606.4 634.1,1612.8 640.5,1620.4 645.9,1625.7" fill="none" stroke="#000" stroke-width="5" stroke-linejoin="round" stroke-linecap="round"/>
<path d="M832.8,391.5 813.5,444.1 801.6,460.2 796.3,475.2 796.3,483.8 802.7,497.8 M803.8,491.8 784.5,563.7 775.9,577.7 770.5,594.9 759.8,606.7 758.7,612.1 763,627.1 760.8,636.8 743.6,699.1 730.8,742 723.2,748.5 723.9,765.7 711.4,802.2 709.3,823.6 713.1,829 707.6,838.7 686.7,913.9 M689.5,905.7 683.5,922.9 683.5,935.8 669.5,983 669.5,992.7 665.2,1000.2 655.6,1034.6 648.1,1064.7 643.1,1084 642.7,1099 638.4,1116.2 626.6,1155.9 621.2,1160.2 615.8,1187.1 611.5,1201.1 605.1,1211.8 601.4,1221.5 595.4,1230.1 593.3,1245.1 590.1,1262.3 586.8,1273 585.8,1296.6 584.7,1318.1 M1118.3,136.5 1122.1,150.9 1116.8,165.9 1115.3,174.5 1114.6,185.3 1109.2,196 1106,199.2 1070.6,217.5 1044.8,239 1006.1,256.1 976.1,266.9 965.3,277.6 950.3,289.4 937.4,302.3 922.4,318.4 915.9,327 905.2,337.8 898.7,341 885.8,351.7 866.5,368.9 851.5,377.5 838.6,386.1 830,394.7 827.9,405.4 M1130.7,148.7 1132.9,174.5 1150.1,191.7 1158.6,197.1 1165.1,213.2 1175.8,229.3 1176.9,243.3 1178,262.6 1169.4,279.8 1161.9,301.2 1160.8,316.3 1158,342.1 1157.6,370 1159.7,397.9 1158.6,419.4 1155.4,438.7 1157.6,466.6 1167.2,474.2 1173.7,481.7 1183.4,497.8 M1118.3,136.5 1130.7,146.6 1151.1,147 1165.1,138.4 1170.5,128.3 1173.7,119.7 1180.1,86.4 M1116.8,173.4 1130.7,174.5 1150.1,169.1 1161.9,156.3 1173.7,150.9 1195.2,143.4 1227.4,131.6 1247.8,124.7 M1082.4,86.4 1098.5,118.7 1118.3,136.5 M1179.1,490.7 1184.4,498.2 1193,514.3 1197.3,520.8 1205.9,530.4 1213.4,539 1224.2,544.4 1230.6,555.1 1233.8,563.7 1242.4,593.8 1247.8,606.7 M1242.9,126.6 1315.9,97.6 M1241.8,591.7 1248.2,606.7 1255.7,615.3 1263.3,625 1263.9,636.8 1266.5,643.2 1283.7,664.7 1285.8,670.1 1298.7,699.1 1315.9,722.7 1327.7,733.4 1335.2,744.2 1346,759.2 1358.8,780.7 1373.9,806.5 1378.2,811.8 1405,833.3 1410.4,840.8 1434,860.2 1437.2,867.7 1444.8,879.5 1451.2,893.5 1457.7,902.1 1466.2,912.8 M1458.7,906.8 1479.1,931.5 1492,949.7 1494.2,960.5 1517.8,983 1543.6,1004.5 1567.2,1026 1588.7,1060.4 1596.2,1084 1596.2,1096.9 M1596.2,1095.8 1629.5,1108.7 1644.5,1118.4 1653.1,1121.6 1663.9,1128.7 M1655.7,1123.7 1668.6,1129.1 1675,1130.2" fill="none" stroke="#6e2500" stroke-width="6" stroke-linejoin="round" stroke-linecap="round"/>
<g>
<path d="M721.6,636.7 C728.8,643 741.8,643 749.7,634.8 C757.5,643 770.6,643 777.7,636.7 C782.3,646.2 783.6,657.6 780.4,669.7 C777.1,683 766,693.8 749.7,698.2 C733.3,693.8 722.2,683 719,669.7 C715.7,657.6 717,646.2 721.6,636.7Z" fill="#fff" stroke="#fff" stroke-width="0.5"/>
<path d="M722.2,638.3 C729.4,644.3 741.8,644.3 749.7,636.4 C757.5,644.3 769.9,644.3 777.1,638.3 C780,643.7 781.3,648.8 781.3,652.2 L718,652.2 C718,648.8 719.3,643.7 722.2,638.3Z" fill="#af1e2d"/>
<path d="M718,654.1 L781.3,654.1 C781.7,660.2 780.7,666.5 779.4,670.3 C775.8,683 765.3,693.1 749.7,697.3 C734,693.1 723.5,683 720,670.3 C718.6,666.5 717.7,660.2 718,654.1Z" fill="#003f87"/>
<text x="749.7" y="686.6" font-size="29" class="b" fill="#fff" text-anchor="middle">35</text>
</g>
<g>
<path d="M1310.4,49.6 C1317.5,56 1330.6,56 1338.4,47.7 C1346.3,56 1359.3,56 1366.5,49.6 C1371.1,59.2 1372.4,70.6 1369.1,82.6 C1365.9,95.9 1354.8,106.7 1338.4,111.1 C1322.1,106.7 1311,95.9 1307.7,82.6 C1304.5,70.6 1305.8,59.2 1310.4,49.6Z" fill="#fff" stroke="#fff" stroke-width="0.5"/>
<path d="M1311,51.2 C1318.2,57.3 1330.6,57.3 1338.4,49.3 C1346.3,57.3 1358.7,57.3 1365.9,51.2 C1368.8,56.6 1370.1,61.7 1370.1,65.2 L1306.8,65.2 C1306.8,61.7 1308.1,56.6 1311,51.2Z" fill="#af1e2d"/>
<path d="M1306.8,67.1 L1370.1,67.1 C1370.4,73.1 1369.5,79.4 1368.2,83.3 C1364.6,95.9 1354.1,106.1 1338.4,110.2 C1322.8,106.1 1312.3,95.9 1308.7,83.3 C1307.4,79.4 1306.4,73.1 1306.8,67.1Z" fill="#003f87"/>
<clipPath id="c10"><rect x="1328.8" y="66.1" width="6.2" height="50"/><rect x="1338.2" y="66.1" width="20" height="50"/></clipPath>
<text x="1338.4" y="99.5" font-size="29" class="b" fill="#fff" text-anchor="middle" clip-path="url(#c10)">10</text>
</g>
<g>
<path d="M1270.6,665.9 C1277.8,672.3 1290.9,672.3 1298.7,664 C1306.5,672.3 1319.6,672.3 1326.8,665.9 C1331.4,675.4 1332.7,686.8 1329.4,698.9 C1326.1,712.2 1315,723 1298.7,727.4 C1282.4,723 1271.3,712.2 1268,698.9 C1264.7,686.8 1266.1,675.4 1270.6,665.9Z" fill="#fff" stroke="#fff" stroke-width="0.5"/>
<path d="M1271.3,667.5 C1278.5,673.5 1290.9,673.5 1298.7,665.6 C1306.5,673.5 1318.9,673.5 1326.1,667.5 C1329.1,672.9 1330.4,678 1330.4,681.5 L1267,681.5 C1267,678 1268.3,672.9 1271.3,667.5Z" fill="#af1e2d"/>
<path d="M1267,683.4 L1330.4,683.4 C1330.7,689.4 1329.7,695.7 1328.4,699.5 C1324.8,712.2 1314.4,722.3 1298.7,726.5 C1283,722.3 1272.6,712.2 1269,699.5 C1267.7,695.7 1266.7,689.4 1267,683.4Z" fill="#003f87"/>
<text x="1298.7" y="715.8" font-size="29" class="b" fill="#fff" text-anchor="middle">37</text>
</g>
<circle cx="595.4" cy="1298.4" r="12.2" fill="#000"/>
<circle cx="1118.5" cy="136.7" r="12" fill="#000"/>
<circle cx="1660" cy="1151" r="12.2" fill="#000"/>
<text x="610.5" y="1283.3" font-size="33" class="b" fill="#fff" stroke="#000" stroke-width="7" stroke-linejoin="round" paint-order="stroke fill">Laredo</text>
<text x="1022.2" y="116.7" font-size="33" class="b" fill="#fff" stroke="#000" stroke-width="7" stroke-linejoin="round" paint-order="stroke fill">San Antonio</text>
<text x="1675.7" y="1097.5" font-size="33" class="b" fill="#fff" stroke="#000" stroke-width="7" stroke-linejoin="round" paint-order="stroke fill">Corpus</text>
<text x="1675.7" y="1135.3" font-size="33" class="b" fill="#fff" stroke="#000" stroke-width="7" stroke-linejoin="round" paint-order="stroke fill">Christi</text>
<rect x="0" y="88" width="1.3" height="1742" fill="#222"/>
<rect x="2488.8" y="88" width="1.2" height="1742" fill="#222"/>
<rect x="0" y="0" width="2490" height="89.5" fill="#264078"/>
<text x="407.3" y="65.3" font-size="55.2" class="b" fill="#000">WSSI Overall</text>
<text x="1672.3" y="64.3" font-size="41.7" fill="#000">Valid through Wed, Jan 28, 2026 12 AM CT</text>
<text x="404" y="62" font-size="55.2" class="b" fill="#fff">WSSI Overall</text>
<text x="1669" y="61" font-size="41.7" fill="#fff">Valid through Wed, Jan 28, 2026 12 AM CT</text>
<rect x="15.5" y="1624.4" width="1214.3" height="198.6" fill="#fff" stroke="#000" stroke-width="6"/>
<text x="60" y="1733.3" font-size="120" fill="#27407a" textLength="296" lengthAdjust="spacingAndGlyphs" stroke="#27407a" stroke-width="6" stroke-linejoin="miter">WSSI</text>
<text x="357" y="1735.5" font-size="10" fill="#27407a">TM</text>
<text x="42" y="1765.5" font-size="24.5" fill="#2b4a8d" textLength="346" lengthAdjust="spacingAndGlyphs" stroke="#2b4a8d" stroke-width="0.9">The Winter Storm Severity Index</text>
<rect x="40.0" y="1777" width="69.9" height="23" fill="#d9d7e8"/>
<rect x="109.7" y="1777" width="69.9" height="23" fill="#e9ee8c"/>
<rect x="179.4" y="1777" width="69.9" height="23" fill="#f79a32"/>
<rect x="249.1" y="1777" width="69.9" height="23" fill="#e8212b"/>
<rect x="318.8" y="1777" width="69.9" height="23" fill="#7b50a0"/>
<text x="717" y="1687" font-size="37.4" fill="#000">Created by:</text>
<text x="717" y="1731" font-size="37.4" fill="#000">The National Weather Service</text>
<text x="717" y="1774" font-size="37.4" fill="#000">Weather Prediction Center</text>
<rect x="0" y="1827.6" width="2490" height="54.1" fill="#000"/>
<rect x="2" y="1830.3" width="2486" height="49.2" fill="#c8c8c8"/>
<text x="10.5" y="1871.3" font-size="45.6" class="b" fill="#000">Potential Winter Storm Impacts</text>
<text x="893" y="1872" font-size="41.6" fill="#000">Winter Storm Severity Index (WSSI)</text>
<text x="1670.5" y="1871.3" font-size="45.6" class="b" fill="#000">Issued: Sun, Jan 25, 2026 12 AM CT</text>
<rect x="0" y="1881.7" width="2490" height="608.3" fill="#fff"/>
<rect x="3" y="1880" width="4.2" height="610" fill="#000"/>
<rect x="0" y="2487.2" width="2490" height="2.8" fill="#000"/>
<line x1="330" y1="1893" x2="330" y2="2477" stroke="#000" stroke-width="4.2" stroke-linecap="round"/>
<line x1="828" y1="1893" x2="828" y2="2477" stroke="#000" stroke-width="4.2" stroke-linecap="round"/>
<line x1="1367.5" y1="1893" x2="1367.5" y2="2477" stroke="#000" stroke-width="4.2" stroke-linecap="round"/>
<line x1="1888" y1="1893" x2="1888" y2="2477" stroke="#000" stroke-width="4.2" stroke-linecap="round"/>
<rect x="15.5" y="1903.2" width="99.5" height="49.9" fill="#d3dfe8" stroke="#6f6f6f" stroke-width="3.4"/>
<rect x="346.4" y="1903.2" width="99.5" height="49.9" fill="#faf5a0" stroke="#6f6f6f" stroke-width="3.4"/>
<rect x="844.5" y="1903.2" width="99.5" height="49.9" fill="#f79630" stroke="#6f6f6f" stroke-width="3.4"/>
<rect x="1383.9" y="1903.2" width="99.5" height="49.9" fill="#e8212b" stroke="#6f6f6f" stroke-width="3.4"/>
<rect x="1912.9" y="1903.2" width="99.5" height="49.9" fill="#7b50a0" stroke="#6f6f6f" stroke-width="3.4"/>
<text x="136" y="1943.7" font-size="45.6" class="b" fill="#000">Winter</text>
<text x="136" y="1996.7" font-size="45.6" class="b" fill="#000">Weather</text>
<text x="136" y="2049.7" font-size="45.6" class="b" fill="#000">Area</text>
<text x="16.5" y="2099.4" font-size="41.6" class="b" fill="#000">Expect winter</text>
<text x="16.5" y="2148" font-size="41.6" class="b" fill="#000">weather.</text>
<circle cx="19.5" cy="2193" r="6.4"/>
<text x="38.5" y="2209.2" font-size="41.6" fill="#000">Winter driving</text>
<text x="38.5" y="2255.7" font-size="41.6" fill="#000">conditions.</text>
<text x="35.3" y="2301" font-size="41.6" class="b" fill="#000">Drive carefully.</text>
<text x="467" y="1942.5" font-size="45.6" class="b" fill="#000">Minor Impacts</text>
<text x="347.5" y="2005.5" font-size="41.6" class="b" fill="#000">Expect a few</text>
<text x="347.5" y="2053" font-size="41.6" class="b" fill="#000">inconveniences to daily</text>
<text x="347.5" y="2101.5" font-size="41.6" class="b" fill="#000">life.</text>
<circle cx="346.5" cy="2145" r="6.4"/>
<text x="369.5" y="2159.2" font-size="41.6" fill="#000">Winter driving</text>
<text x="369.5" y="2207.3" font-size="41.6" fill="#000">conditions.</text>
<text x="578.5" y="2207.3" font-size="41.6" class="b" fill="#000">Use Caution</text>
<text x="369.5" y="2251" font-size="41.6" class="b" fill="#000">while driving.</text>
<text x="965" y="1942.5" font-size="45.6" class="b" fill="#000">Moderate Impacts</text>
<text x="845.5" y="2005.5" font-size="41.6" class="b" fill="#000">Expect disruptions</text>
<text x="845.5" y="2053" font-size="41.6" class="b" fill="#000">to daily life.</text>
<circle cx="845" cy="2103.5" r="6.4"/>
<text x="867.7" y="2119.2" font-size="41.6" fill="#000">Hazardous driving</text>
<text x="867.7" y="2168" font-size="41.6" fill="#000">conditions.</text>
<text x="1073.5" y="2168" font-size="41.6" class="b" fill="#000">Use extra</text>
<text x="867.7" y="2208" font-size="41.6" class="b" fill="#000">caution while driving.</text>
<circle cx="845" cy="2254" r="6.4"/>
<text x="867.7" y="2269.5" font-size="41.6" fill="#000">Closures and disruptions</text>
<text x="867.7" y="2318" font-size="41.6" fill="#000">to infrastructure may</text>
<text x="867.7" y="2365" font-size="41.6" fill="#000">occur.</text>
<text x="1505" y="1942.5" font-size="45.6" class="b" fill="#000">Major Impacts</text>
<text x="1385.5" y="2005.5" font-size="41.6" class="b" fill="#000">Expect considerable</text>
<text x="1385.5" y="2053" font-size="41.6" class="b" fill="#000">disruptions to daily life.</text>
<text x="1407.7" y="2118" font-size="41.6" fill="#000">Dangerous or impossible</text>
<text x="1407.7" y="2165" font-size="41.6" fill="#000">driving conditions.</text>
<text x="1749" y="2165" font-size="41.6" class="b" fill="#000">Avoid</text>
<text x="1407.7" y="2213" font-size="41.6" class="b" fill="#000">travel if possible.</text>
<text x="1407.7" y="2271.5" font-size="41.6" fill="#000">Widespread closures and</text>
<text x="1407.7" y="2319.2" font-size="41.6" fill="#000">disruptions to</text>
<text x="1407.7" y="2368" font-size="41.6" fill="#000">infrastructure may occur.</text>
<text x="2034" y="1942.5" font-size="45.6" class="b" fill="#000">Extreme Impacts</text>
<text x="1914.5" y="2005.5" font-size="41.6" class="b" fill="#000">Expect substantial</text>
<text x="1914.5" y="2053" font-size="41.6" class="b" fill="#000">disruptions to daily life.</text>
<text x="1936.7" y="2125" font-size="41.6" fill="#000">Extremely dangerous or</text>
<text x="1936.7" y="2173.2" font-size="41.6" fill="#000">impossible driving conditions.</text>
<text x="1936.7" y="2217.5" font-size="41.6" class="b" fill="#000">Travel is not advised.</text>
<text x="1936.7" y="2273.7" font-size="41.6" fill="#000">Extensive and widespread</text>
<text x="1936.7" y="2322.5" font-size="41.6" fill="#000">closures and disruptions</text>
<text x="1936.7" y="2370.2" font-size="41.6" fill="#000">to infrastructure may occur.</text>
<text x="1936.7" y="2429.3" font-size="41.6" fill="#000">Life-saving actions may be</text>
<text x="1936.7" y="2477.8" font-size="41.6" fill="#000">needed.</text>
<g transform="translate(390,1630) scale(0.16563)">
<circle cx="527" cy="545" r="390" fill="#fff" stroke="#e2e2e2" stroke-width="5"/>
<defs><path id="nwsArc" d="M366.5,782.9 A287.0,287.0 0 1 1 687.5,782.9"/><clipPath id="nwsClip"><circle cx="530" cy="545" r="243"/></clipPath></defs>
<text font-size="104" font-weight="bold" fill="#ee1c25" stroke="#ee1c25" stroke-width="5" letter-spacing="14"><textPath href="#nwsArc" textLength="1450" lengthAdjust="spacingAndGlyphs">NATIONAL WEATHER SERVICE</textPath></text>
<circle cx="530" cy="545" r="245" fill="#33b3e6" stroke="#00008f" stroke-width="6"/>
<g clip-path="url(#nwsClip)">
<line x1="394" y1="522" x2="294" y2="435" stroke="#00008f" stroke-width="5"/>
<line x1="444" y1="462" x2="381" y2="332" stroke="#00008f" stroke-width="5"/>
<line x1="530" y1="435" x2="530" y2="285" stroke="#00008f" stroke-width="5"/>
<line x1="616" y1="462" x2="679" y2="332" stroke="#00008f" stroke-width="5"/>
<line x1="666" y1="522" x2="766" y2="435" stroke="#00008f" stroke-width="5"/>
<path d="M270,600 L800,600 L800,705 C760,725 720,700 680,712 C640,725 600,700 560,712 C520,725 480,700 440,712 C400,725 360,700 320,715 L270,715Z" fill="#fff"/>
</g>
<path d="M262,520 C262,480 300,460 345,468 C360,430 400,420 430,440 C450,395 520,385 560,410 C600,385 670,395 690,440 C720,430 750,450 755,480 C790,480 815,505 810,535 C805,565 780,580 750,580 C745,610 720,625 690,620 C680,650 640,660 610,645 C590,670 550,680 520,662 C490,680 450,672 435,650 C400,665 360,650 350,625 C310,635 270,620 255,590 C245,560 250,535 262,520Z" fill="#00009c"/>
<path d="M330,340 L405,338 L492,438 L445,440 L565,540 L515,545 L640,640 L600,648 L722,745 L570,660 L600,652 L470,560 L520,552 L395,455 L440,450Z" fill="#fff" stroke="#00008f" stroke-width="6" stroke-linejoin="miter"/>
<polygon points="430.0,853.0 434.7,866.5 449.0,866.8 437.6,875.5 441.8,889.2 430.0,881.0 418.2,889.2 422.4,875.5 411.0,866.8 425.3,866.5" fill="#1c1cd0"/>
<polygon points="527.0,857.0 534.1,877.3 555.5,877.7 538.4,890.7 544.6,911.3 527.0,899.0 509.4,911.3 515.6,890.7 498.5,877.7 519.9,877.3" fill="#ee1c25"/>
<polygon points="625.0,853.0 629.7,866.5 644.0,866.8 632.6,875.5 636.8,889.2 625.0,881.0 613.2,889.2 617.4,875.5 606.0,866.8 620.3,866.5" fill="#1c1cd0"/>
<defs><path id="noaaTop" d="M1028.6,642.0 A352.0,352.0 0 1 1 1697.8,665.4"/><path id="noaaBot" d="M1012.3,739.0 A398.0,398.0 0 0 0 1694.5,750.9"/><clipPath id="noaaClip"><circle cx="1355" cy="540" r="336"/></clipPath></defs>
<text font-size="50" fill="#253f78" stroke="#253f78" stroke-width="1.5"><textPath href="#noaaTop" textLength="1330" lengthAdjust="spacingAndGlyphs">NATIONAL OCEANIC AND ATMOSPHERIC ADMINISTRATION</textPath></text>
<text font-size="50" fill="#253f78" stroke="#253f78" stroke-width="1.5"><textPath href="#noaaBot" textLength="800" lengthAdjust="spacingAndGlyphs">U.S. DEPARTMENT OF COMMERCE</textPath></text>
<circle cx="1355" cy="540" r="336" fill="#0a80c9"/>
<g clip-path="url(#noaaClip)">
<path d="M1000,480 C1040,430 1060,380 1085,345 C1150,400 1200,470 1250,540 C1290,585 1340,605 1375,600 C1420,590 1470,560 1510,510 C1550,460 1590,390 1625,330 L1665,395 C1640,450 1590,510 1540,555 C1500,585 1460,600 1425,606 C1460,600 1490,602 1505,612 C1470,622 1420,636 1380,652 C1340,670 1300,688 1265,690 C1250,690 1245,680 1255,672 C1290,660 1320,645 1340,632 C1290,630 1240,600 1190,560 C1130,510 1070,470 1000,480Z" fill="#fff"/>
<path d="M1085,345 C1130,250 1240,200 1355,200 C1470,200 1580,250 1622,332 C1590,390 1550,460 1510,510 C1470,560 1420,592 1372,598 C1330,600 1290,580 1250,538 C1200,470 1150,400 1085,345Z" fill="#253f78"/>
</g>
<text x="1205" y="424" font-size="128" class="b" fill="#fff" textLength="282" lengthAdjust="spacingAndGlyphs">NOAA</text>
</g>
</svg>
</body></html>
